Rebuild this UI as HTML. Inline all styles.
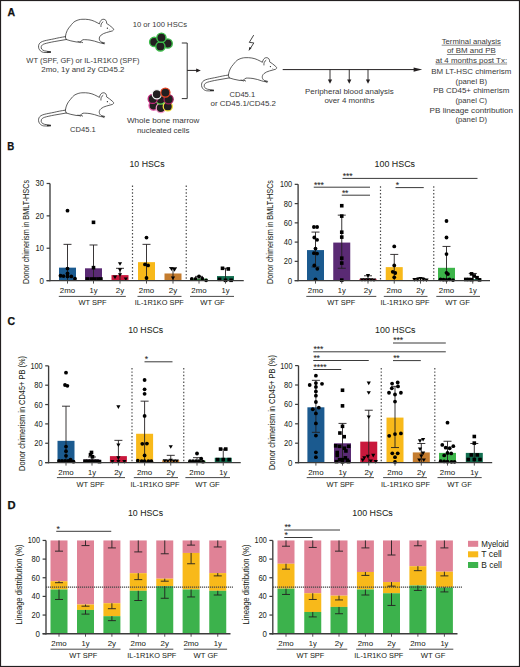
<!DOCTYPE html>
<html><head><meta charset="utf-8"><style>
html,body{margin:0;padding:0;background:#fff;}
body{width:520px;height:667px;overflow:hidden;}
svg{display:block;font-family:"Liberation Sans", sans-serif;}
text{stroke:#231f20;stroke-width:0.04px;}
.pa text{stroke-width:0;fill:#383838;}
</style></head><body>
<svg width="520" height="667" viewBox="0 0 520 667">
<rect x="0.5" y="0.5" width="519" height="666" fill="#fff" stroke="#231f20" stroke-width="1.2"/>
<g class="pa">
<text x="7.60" y="16.30" font-size="10.5" text-anchor="start" fill="#231f20" font-weight="bold" textLength="7.60" lengthAdjust="spacingAndGlyphs" style="stroke-width:0.25px;fill:#111;stroke:#111">A</text>
<g transform="translate(0,0)" fill="none" stroke="#2a2a2a" stroke-width="0.75" stroke-linejoin="round" stroke-linecap="round"><path d="M65.4,36.5 C66,32 68,28.4 70.4,26 C72,23.8 73.5,22.2 75,21.3 C78,19.8 80,19.4 81.9,19.3 C84.5,19.2 86.5,19.2 88.8,19.6 C91,20 93,20.6 94.6,21.4 C96.5,22.3 98,23.1 99.4,23.9 C99.8,22 100.6,20.4 101.8,19.7 C103,19 104.8,19.1 105.8,20.3 C106.5,21.2 106.8,22.3 106.6,23.4 C108.5,24.6 110.5,26 112,27.4 C113.2,28.4 113.9,29.2 113.6,29.9 C113.2,30.7 112.2,31.1 111,31.3 C109.5,31.7 108,32.1 106.6,32.5 C104.5,33.1 102.5,33.9 101.1,35.1 C99.7,36.3 99.1,37.7 99.3,39.1 C99.5,40.5 100.3,41.5 101.5,42.1 C102.5,42.5 103.7,42.6 104.7,42.9 C104.9,43.4 104,43.6 103,43.4 C101.5,43.2 100,42.9 98.8,42.5 C96,41.5 93,40.6 90,40.1 C87,39.7 84.5,39.6 83,39.7 C82,40.1 81.4,41 80.6,41.6 C79.2,42.2 77.5,42.2 76,41.9 C72.5,41.3 69,40.5 66.5,39.6 Z" fill="#fff"/><path d="M65.6,36.6 C61,37.3 57.5,38 54.2,38.8 C50.5,39.6 47,40.1 44.2,40.9 C41.5,41.6 39.8,42.6 39,44.3 C38.2,46.1 38.4,48.3 39.6,49.9 C40.6,51.3 42,52.1 43.6,52.4 C46,52.7 48.5,52.5 50.6,52.4 M66.4,39.5 C62.5,40.2 58.5,40.9 54.2,41.6 C50.5,42.3 47,43 44.3,43.9 C42.7,44.5 41.6,45.3 41.3,46.4 C41,47.5 41.2,48.4 41.7,49.1 C42.4,50 43.3,50.5 44.5,50.8 C46.5,51.3 48.5,51.5 50.6,51.7"/><path d="M100.9,26.6 C100.7,24.6 101.4,22.8 102.9,21.9 M78,41.6 L80.5,42.6 M80.8,41.8 L82.6,42.6 M101.8,42.6 L104,43.9 "/><path d="M47,51.3 L50.8,51.6 L50.8,52.5 L47,52.7 Z" fill="#2a2a2a" stroke="none"/><circle cx="107.4" cy="28.2" r="0.65" fill="#222" stroke="none"/><circle cx="109.8" cy="29.9" r="0.4" fill="#555" stroke="none"/></g>
<g transform="translate(0,73.5)" fill="none" stroke="#2a2a2a" stroke-width="0.75" stroke-linejoin="round" stroke-linecap="round"><path d="M65.4,36.5 C66,32 68,28.4 70.4,26 C72,23.8 73.5,22.2 75,21.3 C78,19.8 80,19.4 81.9,19.3 C84.5,19.2 86.5,19.2 88.8,19.6 C91,20 93,20.6 94.6,21.4 C96.5,22.3 98,23.1 99.4,23.9 C99.8,22 100.6,20.4 101.8,19.7 C103,19 104.8,19.1 105.8,20.3 C106.5,21.2 106.8,22.3 106.6,23.4 C108.5,24.6 110.5,26 112,27.4 C113.2,28.4 113.9,29.2 113.6,29.9 C113.2,30.7 112.2,31.1 111,31.3 C109.5,31.7 108,32.1 106.6,32.5 C104.5,33.1 102.5,33.9 101.1,35.1 C99.7,36.3 99.1,37.7 99.3,39.1 C99.5,40.5 100.3,41.5 101.5,42.1 C102.5,42.5 103.7,42.6 104.7,42.9 C104.9,43.4 104,43.6 103,43.4 C101.5,43.2 100,42.9 98.8,42.5 C96,41.5 93,40.6 90,40.1 C87,39.7 84.5,39.6 83,39.7 C82,40.1 81.4,41 80.6,41.6 C79.2,42.2 77.5,42.2 76,41.9 C72.5,41.3 69,40.5 66.5,39.6 Z" fill="#fff"/><path d="M65.6,36.6 C61,37.3 57.5,38 54.2,38.8 C50.5,39.6 47,40.1 44.2,40.9 C41.5,41.6 39.8,42.6 39,44.3 C38.2,46.1 38.4,48.3 39.6,49.9 C40.6,51.3 42,52.1 43.6,52.4 C46,52.7 48.5,52.5 50.6,52.4 M66.4,39.5 C62.5,40.2 58.5,40.9 54.2,41.6 C50.5,42.3 47,43 44.3,43.9 C42.7,44.5 41.6,45.3 41.3,46.4 C41,47.5 41.2,48.4 41.7,49.1 C42.4,50 43.3,50.5 44.5,50.8 C46.5,51.3 48.5,51.5 50.6,51.7"/><path d="M100.9,26.6 C100.7,24.6 101.4,22.8 102.9,21.9 M78,41.6 L80.5,42.6 M80.8,41.8 L82.6,42.6 M101.8,42.6 L104,43.9 "/><path d="M47,51.3 L50.8,51.6 L50.8,52.5 L47,52.7 Z" fill="#2a2a2a" stroke="none"/><circle cx="107.4" cy="28.2" r="0.65" fill="#222" stroke="none"/><circle cx="109.8" cy="29.9" r="0.4" fill="#555" stroke="none"/></g>
<g transform="translate(163,38.4)" fill="none" stroke="#2a2a2a" stroke-width="0.75" stroke-linejoin="round" stroke-linecap="round"><path d="M65.4,36.5 C66,32 68,28.4 70.4,26 C72,23.8 73.5,22.2 75,21.3 C78,19.8 80,19.4 81.9,19.3 C84.5,19.2 86.5,19.2 88.8,19.6 C91,20 93,20.6 94.6,21.4 C96.5,22.3 98,23.1 99.4,23.9 C99.8,22 100.6,20.4 101.8,19.7 C103,19 104.8,19.1 105.8,20.3 C106.5,21.2 106.8,22.3 106.6,23.4 C108.5,24.6 110.5,26 112,27.4 C113.2,28.4 113.9,29.2 113.6,29.9 C113.2,30.7 112.2,31.1 111,31.3 C109.5,31.7 108,32.1 106.6,32.5 C104.5,33.1 102.5,33.9 101.1,35.1 C99.7,36.3 99.1,37.7 99.3,39.1 C99.5,40.5 100.3,41.5 101.5,42.1 C102.5,42.5 103.7,42.6 104.7,42.9 C104.9,43.4 104,43.6 103,43.4 C101.5,43.2 100,42.9 98.8,42.5 C96,41.5 93,40.6 90,40.1 C87,39.7 84.5,39.6 83,39.7 C82,40.1 81.4,41 80.6,41.6 C79.2,42.2 77.5,42.2 76,41.9 C72.5,41.3 69,40.5 66.5,39.6 Z" fill="#fff"/><path d="M65.6,36.6 C61,37.3 57.5,38 54.2,38.8 C50.5,39.6 47,40.1 44.2,40.9 C41.5,41.6 39.8,42.6 39,44.3 C38.2,46.1 38.4,48.3 39.6,49.9 C40.6,51.3 42,52.1 43.6,52.4 C46,52.7 48.5,52.5 50.6,52.4 M66.4,39.5 C62.5,40.2 58.5,40.9 54.2,41.6 C50.5,42.3 47,43 44.3,43.9 C42.7,44.5 41.6,45.3 41.3,46.4 C41,47.5 41.2,48.4 41.7,49.1 C42.4,50 43.3,50.5 44.5,50.8 C46.5,51.3 48.5,51.5 50.6,51.7"/><path d="M100.9,26.6 C100.7,24.6 101.4,22.8 102.9,21.9 M78,41.6 L80.5,42.6 M80.8,41.8 L82.6,42.6 M101.8,42.6 L104,43.9 "/><path d="M47,51.3 L50.8,51.6 L50.8,52.5 L47,52.7 Z" fill="#2a2a2a" stroke="none"/><circle cx="107.4" cy="28.2" r="0.65" fill="#222" stroke="none"/><circle cx="109.8" cy="29.9" r="0.4" fill="#555" stroke="none"/></g>
<text x="82.90" y="63.40" font-size="7.9" text-anchor="middle" fill="#231f20" textLength="113.20" lengthAdjust="spacingAndGlyphs">WT (SPF, GF) or IL-1R1KO (SPF)</text>
<text x="82.90" y="72.20" font-size="7.9" text-anchor="middle" fill="#231f20" textLength="83.20" lengthAdjust="spacingAndGlyphs">2mo, 1y and 2y CD45.2</text>
<text x="82.90" y="132.00" font-size="7.9" text-anchor="middle" fill="#231f20" textLength="25.70" lengthAdjust="spacingAndGlyphs">CD45.1</text>
<text x="159.90" y="27.20" font-size="7.9" text-anchor="middle" fill="#231f20" textLength="54.30" lengthAdjust="spacingAndGlyphs">10 or 100 HSCs</text>
<text x="163.20" y="122.70" font-size="7.9" text-anchor="middle" fill="#231f20" textLength="72.50" lengthAdjust="spacingAndGlyphs">Whole bone marrow</text>
<text x="163.20" y="132.70" font-size="7.9" text-anchor="middle" fill="#231f20" textLength="52.50" lengthAdjust="spacingAndGlyphs">nucleated cells</text>
<circle cx="154.20" cy="41.90" r="4.60" fill="#231f20" stroke="#3cbc4a" stroke-width="1.4"/>
<circle cx="167.70" cy="43.50" r="4.60" fill="#231f20" stroke="#3cbc4a" stroke-width="1.4"/>
<circle cx="160.40" cy="46.40" r="4.60" fill="#231f20" stroke="#3cbc4a" stroke-width="1.4"/>
<circle cx="161.40" cy="37.70" r="4.60" fill="#231f20" stroke="#3cbc4a" stroke-width="1.4"/>
<circle cx="153.60" cy="105.60" r="4.58" fill="#231f20" stroke="#e255a6" stroke-width="1.25"/>
<circle cx="160.80" cy="108.00" r="4.58" fill="#231f20" stroke="#f59bcb" stroke-width="1.25"/>
<circle cx="167.80" cy="106.40" r="4.58" fill="#231f20" stroke="#f6e23c" stroke-width="1.25"/>
<circle cx="160.50" cy="99.60" r="4.58" fill="#231f20" stroke="#58d348" stroke-width="1.25"/>
<circle cx="152.70" cy="98.90" r="4.58" fill="#231f20" stroke="#c8287f" stroke-width="1.25"/>
<circle cx="168.60" cy="99.30" r="4.58" fill="#231f20" stroke="#a01f5d" stroke-width="1.25"/>
<circle cx="156.80" cy="94.30" r="4.58" fill="#231f20" stroke="#f2f2f2" stroke-width="1.25"/>
<circle cx="165.40" cy="92.60" r="4.58" fill="#231f20" stroke="#ea4220" stroke-width="1.25"/>
<path d="M181.8,43 H187.2 V98.6 H181.8" fill="none" stroke="#333" stroke-width="1"/>
<line x1="187.20" y1="70.40" x2="197.50" y2="70.40" stroke="#231f20" stroke-width="1"/>
<path d="M200.8,70.4 L196.2,68.4 L196.2,72.4 Z" fill="#231f20"/>
<path d="M253.7,35.1 L249.3,42.4 L253.8,42.9 L250.4,48.4" fill="none" stroke="#222" stroke-width="0.85" stroke-linejoin="miter"/>
<path d="M248.6,50.9 L249.4,46.9 L251.5,48.1 Z" fill="#222"/>
<text x="242.30" y="96.70" font-size="7.9" text-anchor="middle" fill="#231f20" textLength="25.70" lengthAdjust="spacingAndGlyphs">CD45.1</text>
<text x="243.30" y="106.40" font-size="7.9" text-anchor="middle" fill="#231f20" textLength="65.40" lengthAdjust="spacingAndGlyphs">or CD45.1/CD45.2</text>
<line x1="282.70" y1="69.60" x2="417.00" y2="69.60" stroke="#231f20" stroke-width="1"/>
<path d="M422.2,69.6 L413.6,67.4 L413.6,71.8 Z" fill="#231f20"/>
<line x1="330.00" y1="69.60" x2="330.00" y2="80.50" stroke="#231f20" stroke-width="0.9"/>
<path d="M327.9,79.6 L332.1,79.6 L330,83.8 Z" fill="#231f20"/>
<line x1="349.25" y1="69.60" x2="349.25" y2="80.50" stroke="#231f20" stroke-width="0.9"/>
<path d="M347.15,79.6 L351.35,79.6 L349.25,83.8 Z" fill="#231f20"/>
<line x1="368.00" y1="69.60" x2="368.00" y2="80.50" stroke="#231f20" stroke-width="0.9"/>
<path d="M365.9,79.6 L370.1,79.6 L368,83.8 Z" fill="#231f20"/>
<text x="349.40" y="93.90" font-size="7.9" text-anchor="middle" fill="#231f20" textLength="88.70" lengthAdjust="spacingAndGlyphs">Peripheral blood analysis</text>
<text x="349.40" y="103.40" font-size="7.9" text-anchor="middle" fill="#231f20" textLength="50.00" lengthAdjust="spacingAndGlyphs">over 4 months</text>
<text x="471.30" y="43.90" font-size="7.9" text-anchor="middle" fill="#231f20" textLength="59.20" lengthAdjust="spacingAndGlyphs">Terminal analysis</text>
<line x1="441.70" y1="45.20" x2="500.90" y2="45.20" stroke="#3a3a3a" stroke-width="0.6"/>
<text x="471.30" y="53.20" font-size="7.9" text-anchor="middle" fill="#231f20" textLength="48.80" lengthAdjust="spacingAndGlyphs">of BM and PB</text>
<line x1="446.90" y1="54.50" x2="495.70" y2="54.50" stroke="#3a3a3a" stroke-width="0.6"/>
<text x="471.30" y="62.70" font-size="7.9" text-anchor="middle" fill="#231f20" textLength="71.60" lengthAdjust="spacingAndGlyphs">at 4 months post Tx:</text>
<line x1="435.50" y1="64.00" x2="507.10" y2="64.00" stroke="#3a3a3a" stroke-width="0.6"/>
<text x="471.30" y="73.90" font-size="7.9" text-anchor="middle" fill="#231f20" textLength="80.00" lengthAdjust="spacingAndGlyphs">BM LT-HSC chimerism</text>
<text x="471.30" y="83.90" font-size="7.9" text-anchor="middle" fill="#231f20" textLength="31.50" lengthAdjust="spacingAndGlyphs">(panel B)</text>
<text x="471.30" y="93.40" font-size="7.9" text-anchor="middle" fill="#231f20" textLength="76.00" lengthAdjust="spacingAndGlyphs">PB CD45+ chimerism</text>
<text x="471.30" y="102.70" font-size="7.9" text-anchor="middle" fill="#231f20" textLength="31.50" lengthAdjust="spacingAndGlyphs">(panel C)</text>
<text x="471.30" y="112.70" font-size="7.9" text-anchor="middle" fill="#231f20" textLength="83.50" lengthAdjust="spacingAndGlyphs">PB lineage contribution</text>
<text x="471.30" y="121.90" font-size="7.9" text-anchor="middle" fill="#231f20" textLength="31.50" lengthAdjust="spacingAndGlyphs">(panel D)</text>
</g>
<text x="7.30" y="150.20" font-size="10.5" text-anchor="start" fill="#231f20" font-weight="bold" textLength="7.00" lengthAdjust="spacingAndGlyphs" style="stroke-width:0.25px;fill:#111;stroke:#111">B</text>
<text x="147.00" y="166.80" font-size="9.6" text-anchor="middle" fill="#231f20" textLength="35.00" lengthAdjust="spacingAndGlyphs">10 HSCs</text>
<text x="29.20" y="232.00" font-size="9.0" text-anchor="middle" fill="#231f20" textLength="104.00" lengthAdjust="spacingAndGlyphs" transform="rotate(-90 29.20 232.00)">Donor chimerism in BMLT-HSCs</text>
<rect x="59.00" y="267.65" width="17.00" height="12.95" fill="#1b5a8f"/>
<rect x="85.00" y="268.30" width="17.00" height="12.30" fill="#5a2a74"/>
<rect x="111.50" y="275.10" width="17.00" height="5.50" fill="#c9183c"/>
<rect x="138.00" y="262.15" width="17.00" height="18.45" fill="#f8b91a"/>
<rect x="164.50" y="273.48" width="17.00" height="7.12" fill="#c47c2e"/>
<rect x="190.50" y="278.66" width="17.00" height="1.94" fill="#3db54a"/>
<rect x="217.00" y="276.07" width="17.00" height="4.53" fill="#126f50"/>
<line x1="132.50" y1="185.50" x2="132.50" y2="280.60" stroke="#4a4a4a" stroke-width="1.2" stroke-dasharray="1.4 2"/>
<line x1="186.25" y1="185.50" x2="186.25" y2="280.60" stroke="#4a4a4a" stroke-width="1.2" stroke-dasharray="1.4 2"/>
<line x1="67.50" y1="244.35" x2="67.50" y2="280.60" stroke="#231f20" stroke-width="0.9"/>
<line x1="63.50" y1="244.35" x2="71.50" y2="244.35" stroke="#231f20" stroke-width="0.9"/>
<line x1="93.50" y1="244.99" x2="93.50" y2="280.60" stroke="#231f20" stroke-width="0.9"/>
<line x1="89.50" y1="244.99" x2="97.50" y2="244.99" stroke="#231f20" stroke-width="0.9"/>
<line x1="120.00" y1="268.30" x2="120.00" y2="280.60" stroke="#231f20" stroke-width="0.9"/>
<line x1="116.00" y1="268.30" x2="124.00" y2="268.30" stroke="#231f20" stroke-width="0.9"/>
<line x1="146.50" y1="244.35" x2="146.50" y2="280.60" stroke="#231f20" stroke-width="0.9"/>
<line x1="142.50" y1="244.35" x2="150.50" y2="244.35" stroke="#231f20" stroke-width="0.9"/>
<line x1="173.00" y1="267.65" x2="173.00" y2="280.60" stroke="#231f20" stroke-width="0.9"/>
<line x1="169.00" y1="267.65" x2="177.00" y2="267.65" stroke="#231f20" stroke-width="0.9"/>
<line x1="199.00" y1="276.39" x2="199.00" y2="280.60" stroke="#231f20" stroke-width="0.9"/>
<line x1="195.00" y1="276.39" x2="203.00" y2="276.39" stroke="#231f20" stroke-width="0.9"/>
<line x1="225.50" y1="268.30" x2="225.50" y2="280.60" stroke="#231f20" stroke-width="0.9"/>
<line x1="221.50" y1="268.30" x2="229.50" y2="268.30" stroke="#231f20" stroke-width="0.9"/>
<circle cx="67.50" cy="210.68" r="1.9" fill="#000"/>
<circle cx="67.50" cy="268.62" r="1.9" fill="#000"/>
<circle cx="67.50" cy="273.48" r="1.9" fill="#000"/>
<circle cx="60.50" cy="275.74" r="1.9" fill="#000"/>
<circle cx="63.50" cy="276.07" r="1.9" fill="#000"/>
<circle cx="67.50" cy="276.39" r="1.9" fill="#000"/>
<circle cx="71.30" cy="276.39" r="1.9" fill="#000"/>
<circle cx="75.00" cy="278.66" r="1.9" fill="#000"/>
<rect x="91.70" y="220.53" width="3.60" height="3.60" fill="#000"/>
<rect x="91.70" y="265.85" width="3.60" height="3.60" fill="#000"/>
<rect x="85.50" y="277.18" width="3.60" height="3.60" fill="#000"/>
<rect x="89.40" y="277.18" width="3.60" height="3.60" fill="#000"/>
<rect x="92.90" y="277.18" width="3.60" height="3.60" fill="#000"/>
<rect x="96.30" y="277.18" width="3.60" height="3.60" fill="#000"/>
<rect x="99.10" y="277.18" width="3.60" height="3.60" fill="#000"/>
<path d="M117.90,262.17 L122.10,262.17 L120.00,265.87 Z" fill="#000"/>
<path d="M117.90,268.32 L122.10,268.32 L120.00,272.02 Z" fill="#000"/>
<path d="M117.90,273.17 L122.10,273.17 L120.00,276.87 Z" fill="#000"/>
<path d="M112.90,275.44 L117.10,275.44 L115.00,279.14 Z" fill="#000"/>
<path d="M123.70,277.38 L127.90,277.38 L125.80,281.08 Z" fill="#000"/>
<circle cx="146.50" cy="237.55" r="1.9" fill="#000"/>
<circle cx="145.00" cy="264.42" r="1.9" fill="#000"/>
<circle cx="148.10" cy="265.39" r="1.9" fill="#000"/>
<circle cx="146.50" cy="278.01" r="1.9" fill="#000"/>
<path d="M169.40,267.35 L173.60,267.35 L171.50,271.05 Z" fill="#000"/>
<path d="M172.40,267.99 L176.60,267.99 L174.50,271.69 Z" fill="#000"/>
<path d="M170.90,276.41 L175.10,276.41 L173.00,280.11 Z" fill="#000"/>
<circle cx="191.80" cy="278.98" r="1.9" fill="#000"/>
<circle cx="195.60" cy="278.98" r="1.9" fill="#000"/>
<circle cx="199.00" cy="276.39" r="1.9" fill="#000"/>
<circle cx="202.30" cy="278.66" r="1.9" fill="#000"/>
<circle cx="206.10" cy="280.28" r="1.9" fill="#000"/>
<rect x="220.70" y="266.50" width="3.60" height="3.60" fill="#000"/>
<rect x="226.50" y="267.15" width="3.60" height="3.60" fill="#000"/>
<rect x="217.80" y="277.51" width="3.60" height="3.60" fill="#000"/>
<rect x="223.70" y="278.48" width="3.60" height="3.60" fill="#000"/>
<rect x="229.30" y="278.48" width="3.60" height="3.60" fill="#000"/>
<line x1="50.00" y1="183.49" x2="50.00" y2="281.30" stroke="#3c3c3c" stroke-width="1.35"/>
<line x1="46.60" y1="280.60" x2="243.75" y2="280.60" stroke="#3c3c3c" stroke-width="1.35"/>
<line x1="46.60" y1="280.60" x2="50.00" y2="280.60" stroke="#3c3c3c" stroke-width="1.215"/>
<text x="44.00" y="283.60" font-size="8.8" text-anchor="end" fill="#231f20" textLength="4.40" lengthAdjust="spacingAndGlyphs">0</text>
<line x1="46.60" y1="248.23" x2="50.00" y2="248.23" stroke="#3c3c3c" stroke-width="1.215"/>
<text x="44.00" y="251.23" font-size="8.8" text-anchor="end" fill="#231f20" textLength="8.40" lengthAdjust="spacingAndGlyphs">10</text>
<line x1="46.60" y1="215.86" x2="50.00" y2="215.86" stroke="#3c3c3c" stroke-width="1.215"/>
<text x="44.00" y="218.86" font-size="8.8" text-anchor="end" fill="#231f20" textLength="8.40" lengthAdjust="spacingAndGlyphs">20</text>
<line x1="46.60" y1="183.49" x2="50.00" y2="183.49" stroke="#3c3c3c" stroke-width="1.215"/>
<text x="44.00" y="186.49" font-size="8.8" text-anchor="end" fill="#231f20" textLength="8.40" lengthAdjust="spacingAndGlyphs">30</text>
<line x1="67.50" y1="280.60" x2="67.50" y2="283.60" stroke="#3c3c3c" stroke-width="0.9"/>
<line x1="93.50" y1="280.60" x2="93.50" y2="283.60" stroke="#3c3c3c" stroke-width="0.9"/>
<line x1="120.00" y1="280.60" x2="120.00" y2="283.60" stroke="#3c3c3c" stroke-width="0.9"/>
<line x1="146.50" y1="280.60" x2="146.50" y2="283.60" stroke="#3c3c3c" stroke-width="0.9"/>
<line x1="173.00" y1="280.60" x2="173.00" y2="283.60" stroke="#3c3c3c" stroke-width="0.9"/>
<line x1="199.00" y1="280.60" x2="199.00" y2="283.60" stroke="#3c3c3c" stroke-width="0.9"/>
<line x1="225.50" y1="280.60" x2="225.50" y2="283.60" stroke="#3c3c3c" stroke-width="0.9"/>
<text x="67.50" y="293.30" font-size="8.0" text-anchor="middle" fill="#231f20" textLength="15.30" lengthAdjust="spacingAndGlyphs">2mo</text>
<text x="93.50" y="293.30" font-size="8.0" text-anchor="middle" fill="#231f20" textLength="8.00" lengthAdjust="spacingAndGlyphs">1y</text>
<text x="120.00" y="293.30" font-size="8.0" text-anchor="middle" fill="#231f20" textLength="8.40" lengthAdjust="spacingAndGlyphs">2y</text>
<text x="146.50" y="293.30" font-size="8.0" text-anchor="middle" fill="#231f20" textLength="15.30" lengthAdjust="spacingAndGlyphs">2mo</text>
<text x="173.00" y="293.30" font-size="8.0" text-anchor="middle" fill="#231f20" textLength="8.40" lengthAdjust="spacingAndGlyphs">2y</text>
<text x="199.00" y="293.30" font-size="8.0" text-anchor="middle" fill="#231f20" textLength="15.30" lengthAdjust="spacingAndGlyphs">2mo</text>
<text x="225.50" y="293.30" font-size="8.0" text-anchor="middle" fill="#231f20" textLength="8.00" lengthAdjust="spacingAndGlyphs">1y</text>
<line x1="58.80" y1="296.40" x2="125.80" y2="296.40" stroke="#333" stroke-width="0.9"/>
<text x="92.50" y="305.40" font-size="8.0" text-anchor="middle" fill="#231f20" textLength="28.00" lengthAdjust="spacingAndGlyphs">WT SPF</text>
<line x1="137.50" y1="296.40" x2="181.50" y2="296.40" stroke="#333" stroke-width="0.9"/>
<text x="159.30" y="305.40" font-size="8.0" text-anchor="middle" fill="#231f20" textLength="49.00" lengthAdjust="spacingAndGlyphs">IL-1R1KO SPF</text>
<line x1="190.00" y1="296.40" x2="234.00" y2="296.40" stroke="#333" stroke-width="0.9"/>
<text x="212.50" y="305.40" font-size="8.0" text-anchor="middle" fill="#231f20" textLength="24.50" lengthAdjust="spacingAndGlyphs">WT GF</text>
<text x="394.80" y="166.80" font-size="9.6" text-anchor="middle" fill="#231f20" textLength="40.50" lengthAdjust="spacingAndGlyphs">100 HSCs</text>
<text x="273.40" y="232.00" font-size="9.0" text-anchor="middle" fill="#231f20" textLength="104.00" lengthAdjust="spacingAndGlyphs" transform="rotate(-90 273.40 232.00)">Donor chimerism in BMLT-HSCs</text>
<rect x="307.00" y="250.09" width="17.00" height="30.51" fill="#1b5a8f"/>
<rect x="333.25" y="242.58" width="17.00" height="38.02" fill="#5a2a74"/>
<rect x="359.50" y="278.87" width="17.00" height="1.73" fill="#c9183c"/>
<rect x="385.75" y="267.12" width="17.00" height="13.47" fill="#f8b91a"/>
<rect x="412.00" y="279.83" width="17.00" height="0.77" fill="#c47c2e"/>
<rect x="438.00" y="267.80" width="17.00" height="12.80" fill="#3db54a"/>
<rect x="464.25" y="279.16" width="17.00" height="1.44" fill="#126f50"/>
<line x1="380.50" y1="186.30" x2="380.50" y2="280.60" stroke="#4a4a4a" stroke-width="1.2" stroke-dasharray="1.4 2"/>
<line x1="433.75" y1="186.30" x2="433.75" y2="280.60" stroke="#4a4a4a" stroke-width="1.2" stroke-dasharray="1.4 2"/>
<line x1="315.50" y1="232.09" x2="315.50" y2="266.93" stroke="#231f20" stroke-width="0.9"/>
<line x1="311.50" y1="232.09" x2="319.50" y2="232.09" stroke="#231f20" stroke-width="0.9"/>
<line x1="311.50" y1="266.93" x2="319.50" y2="266.93" stroke="#231f20" stroke-width="0.9"/>
<line x1="341.75" y1="215.15" x2="341.75" y2="268.28" stroke="#231f20" stroke-width="0.9"/>
<line x1="337.75" y1="215.15" x2="345.75" y2="215.15" stroke="#231f20" stroke-width="0.9"/>
<line x1="337.75" y1="268.28" x2="345.75" y2="268.28" stroke="#231f20" stroke-width="0.9"/>
<line x1="368.00" y1="275.79" x2="368.00" y2="280.60" stroke="#231f20" stroke-width="0.9"/>
<line x1="364.00" y1="275.79" x2="372.00" y2="275.79" stroke="#231f20" stroke-width="0.9"/>
<line x1="394.25" y1="254.42" x2="394.25" y2="280.60" stroke="#231f20" stroke-width="0.9"/>
<line x1="390.25" y1="254.42" x2="398.25" y2="254.42" stroke="#231f20" stroke-width="0.9"/>
<line x1="420.50" y1="277.71" x2="420.50" y2="280.60" stroke="#231f20" stroke-width="0.9"/>
<line x1="416.50" y1="277.71" x2="424.50" y2="277.71" stroke="#231f20" stroke-width="0.9"/>
<line x1="446.50" y1="246.43" x2="446.50" y2="280.60" stroke="#231f20" stroke-width="0.9"/>
<line x1="442.50" y1="246.43" x2="450.50" y2="246.43" stroke="#231f20" stroke-width="0.9"/>
<line x1="472.75" y1="273.48" x2="472.75" y2="280.60" stroke="#231f20" stroke-width="0.9"/>
<line x1="468.75" y1="273.48" x2="476.75" y2="273.48" stroke="#231f20" stroke-width="0.9"/>
<circle cx="313.90" cy="226.99" r="1.9" fill="#000"/>
<circle cx="317.10" cy="226.99" r="1.9" fill="#000"/>
<circle cx="314.30" cy="237.48" r="1.9" fill="#000"/>
<circle cx="317.10" cy="239.79" r="1.9" fill="#000"/>
<circle cx="315.50" cy="248.55" r="1.9" fill="#000"/>
<circle cx="313.90" cy="253.17" r="1.9" fill="#000"/>
<circle cx="317.10" cy="253.55" r="1.9" fill="#000"/>
<circle cx="314.30" cy="265.49" r="1.9" fill="#000"/>
<circle cx="317.30" cy="268.86" r="1.9" fill="#000"/>
<circle cx="315.50" cy="279.35" r="1.9" fill="#000"/>
<rect x="339.95" y="203.92" width="3.60" height="3.60" fill="#000"/>
<rect x="339.95" y="214.31" width="3.60" height="3.60" fill="#000"/>
<rect x="339.95" y="230.39" width="3.60" height="3.60" fill="#000"/>
<rect x="339.95" y="235.30" width="3.60" height="3.60" fill="#000"/>
<rect x="339.95" y="256.37" width="3.60" height="3.60" fill="#000"/>
<rect x="339.95" y="261.28" width="3.60" height="3.60" fill="#000"/>
<rect x="339.95" y="278.32" width="3.60" height="3.60" fill="#000"/>
<path d="M365.90,274.00 L370.10,274.00 L368.00,277.69 Z" fill="#000"/>
<path d="M359.90,278.13 L364.10,278.13 L362.00,281.83 Z" fill="#000"/>
<path d="M362.90,278.13 L367.10,278.13 L365.00,281.83 Z" fill="#000"/>
<path d="M365.90,278.13 L370.10,278.13 L368.00,281.83 Z" fill="#000"/>
<path d="M368.90,278.13 L373.10,278.13 L371.00,281.83 Z" fill="#000"/>
<path d="M371.90,278.42 L376.10,278.42 L374.00,282.12 Z" fill="#000"/>
<circle cx="394.25" cy="246.43" r="1.9" fill="#000"/>
<circle cx="394.25" cy="265.39" r="1.9" fill="#000"/>
<circle cx="392.75" cy="271.84" r="1.9" fill="#000"/>
<circle cx="395.25" cy="273.00" r="1.9" fill="#000"/>
<circle cx="394.25" cy="277.33" r="1.9" fill="#000"/>
<path d="M412.40,278.04 L416.60,278.04 L414.50,281.74 Z" fill="#000"/>
<path d="M415.40,278.04 L419.60,278.04 L417.50,281.74 Z" fill="#000"/>
<path d="M418.40,277.08 L422.60,277.08 L420.50,280.77 Z" fill="#000"/>
<path d="M421.40,278.04 L425.60,278.04 L423.50,281.74 Z" fill="#000"/>
<path d="M424.40,278.42 L428.60,278.42 L426.50,282.12 Z" fill="#000"/>
<circle cx="446.50" cy="221.02" r="1.9" fill="#000"/>
<circle cx="446.50" cy="237.48" r="1.9" fill="#000"/>
<circle cx="446.50" cy="254.04" r="1.9" fill="#000"/>
<circle cx="446.50" cy="272.80" r="1.9" fill="#000"/>
<circle cx="448.00" cy="274.06" r="1.9" fill="#000"/>
<circle cx="440.50" cy="279.45" r="1.9" fill="#000"/>
<circle cx="443.50" cy="279.64" r="1.9" fill="#000"/>
<circle cx="446.50" cy="279.83" r="1.9" fill="#000"/>
<circle cx="449.50" cy="279.45" r="1.9" fill="#000"/>
<circle cx="453.00" cy="280.12" r="1.9" fill="#000"/>
<rect x="469.75" y="272.06" width="3.60" height="3.60" fill="#000"/>
<rect x="472.45" y="274.18" width="3.60" height="3.60" fill="#000"/>
<rect x="475.25" y="275.91" width="3.60" height="3.60" fill="#000"/>
<rect x="477.75" y="278.03" width="3.60" height="3.60" fill="#000"/>
<rect x="463.95" y="277.65" width="3.60" height="3.60" fill="#000"/>
<rect x="466.95" y="277.65" width="3.60" height="3.60" fill="#000"/>
<rect x="469.95" y="277.84" width="3.60" height="3.60" fill="#000"/>
<line x1="298.10" y1="184.35" x2="298.10" y2="281.30" stroke="#3c3c3c" stroke-width="1.35"/>
<line x1="294.70" y1="280.60" x2="490.00" y2="280.60" stroke="#3c3c3c" stroke-width="1.35"/>
<line x1="294.70" y1="280.60" x2="298.10" y2="280.60" stroke="#3c3c3c" stroke-width="1.215"/>
<text x="292.10" y="283.60" font-size="8.8" text-anchor="end" fill="#231f20" textLength="4.40" lengthAdjust="spacingAndGlyphs">0</text>
<line x1="294.70" y1="261.35" x2="298.10" y2="261.35" stroke="#3c3c3c" stroke-width="1.215"/>
<text x="292.10" y="264.35" font-size="8.8" text-anchor="end" fill="#231f20" textLength="8.40" lengthAdjust="spacingAndGlyphs">20</text>
<line x1="294.70" y1="242.10" x2="298.10" y2="242.10" stroke="#3c3c3c" stroke-width="1.215"/>
<text x="292.10" y="245.10" font-size="8.8" text-anchor="end" fill="#231f20" textLength="8.40" lengthAdjust="spacingAndGlyphs">40</text>
<line x1="294.70" y1="222.85" x2="298.10" y2="222.85" stroke="#3c3c3c" stroke-width="1.215"/>
<text x="292.10" y="225.85" font-size="8.8" text-anchor="end" fill="#231f20" textLength="8.40" lengthAdjust="spacingAndGlyphs">60</text>
<line x1="294.70" y1="203.60" x2="298.10" y2="203.60" stroke="#3c3c3c" stroke-width="1.215"/>
<text x="292.10" y="206.60" font-size="8.8" text-anchor="end" fill="#231f20" textLength="8.40" lengthAdjust="spacingAndGlyphs">80</text>
<line x1="294.70" y1="184.35" x2="298.10" y2="184.35" stroke="#3c3c3c" stroke-width="1.215"/>
<text x="292.10" y="187.35" font-size="8.8" text-anchor="end" fill="#231f20" textLength="12.20" lengthAdjust="spacingAndGlyphs">100</text>
<line x1="315.50" y1="280.60" x2="315.50" y2="283.60" stroke="#3c3c3c" stroke-width="0.9"/>
<line x1="341.75" y1="280.60" x2="341.75" y2="283.60" stroke="#3c3c3c" stroke-width="0.9"/>
<line x1="368.00" y1="280.60" x2="368.00" y2="283.60" stroke="#3c3c3c" stroke-width="0.9"/>
<line x1="394.25" y1="280.60" x2="394.25" y2="283.60" stroke="#3c3c3c" stroke-width="0.9"/>
<line x1="420.50" y1="280.60" x2="420.50" y2="283.60" stroke="#3c3c3c" stroke-width="0.9"/>
<line x1="446.50" y1="280.60" x2="446.50" y2="283.60" stroke="#3c3c3c" stroke-width="0.9"/>
<line x1="472.75" y1="280.60" x2="472.75" y2="283.60" stroke="#3c3c3c" stroke-width="0.9"/>
<line x1="313.75" y1="187.20" x2="370.00" y2="187.20" stroke="#3a3a3a" stroke-width="1.0"/>
<text x="314.05" y="187.60" font-size="8.6" fill="#1a1a1a" stroke="#1a1a1a" stroke-width="0.25" textLength="9.75" lengthAdjust="spacing">***</text>
<line x1="341.75" y1="195.20" x2="370.00" y2="195.20" stroke="#3a3a3a" stroke-width="1.0"/>
<text x="342.05" y="195.60" font-size="8.6" fill="#1a1a1a" stroke="#1a1a1a" stroke-width="0.25" textLength="6.40" lengthAdjust="spacing">**</text>
<line x1="342.50" y1="178.40" x2="477.50" y2="178.40" stroke="#3a3a3a" stroke-width="1.0"/>
<text x="342.80" y="178.80" font-size="8.6" fill="#1a1a1a" stroke="#1a1a1a" stroke-width="0.25" textLength="9.75" lengthAdjust="spacing">***</text>
<line x1="395.50" y1="187.60" x2="423.75" y2="187.60" stroke="#3a3a3a" stroke-width="1.0"/>
<text x="395.80" y="188.00" font-size="8.6" fill="#1a1a1a" stroke="#1a1a1a" stroke-width="0.25" textLength="3.05" lengthAdjust="spacing">*</text>
<text x="315.50" y="293.30" font-size="8.0" text-anchor="middle" fill="#231f20" textLength="15.30" lengthAdjust="spacingAndGlyphs">2mo</text>
<text x="341.75" y="293.30" font-size="8.0" text-anchor="middle" fill="#231f20" textLength="8.00" lengthAdjust="spacingAndGlyphs">1y</text>
<text x="368.00" y="293.30" font-size="8.0" text-anchor="middle" fill="#231f20" textLength="8.40" lengthAdjust="spacingAndGlyphs">2y</text>
<text x="394.25" y="293.30" font-size="8.0" text-anchor="middle" fill="#231f20" textLength="15.30" lengthAdjust="spacingAndGlyphs">2mo</text>
<text x="420.50" y="293.30" font-size="8.0" text-anchor="middle" fill="#231f20" textLength="8.40" lengthAdjust="spacingAndGlyphs">2y</text>
<text x="446.50" y="293.30" font-size="8.0" text-anchor="middle" fill="#231f20" textLength="15.30" lengthAdjust="spacingAndGlyphs">2mo</text>
<text x="472.75" y="293.30" font-size="8.0" text-anchor="middle" fill="#231f20" textLength="8.00" lengthAdjust="spacingAndGlyphs">1y</text>
<line x1="306.30" y1="296.40" x2="376.30" y2="296.40" stroke="#333" stroke-width="0.9"/>
<text x="341.20" y="305.40" font-size="8.0" text-anchor="middle" fill="#231f20" textLength="28.00" lengthAdjust="spacingAndGlyphs">WT SPF</text>
<line x1="383.80" y1="296.40" x2="427.50" y2="296.40" stroke="#333" stroke-width="0.9"/>
<text x="405.00" y="305.40" font-size="8.0" text-anchor="middle" fill="#231f20" textLength="49.00" lengthAdjust="spacingAndGlyphs">IL-1R1KO SPF</text>
<line x1="436.30" y1="296.40" x2="480.00" y2="296.40" stroke="#333" stroke-width="0.9"/>
<text x="457.60" y="305.40" font-size="8.0" text-anchor="middle" fill="#231f20" textLength="24.50" lengthAdjust="spacingAndGlyphs">WT GF</text>
<text x="7.40" y="324.90" font-size="10.5" text-anchor="start" fill="#231f20" font-weight="bold" textLength="7.60" lengthAdjust="spacingAndGlyphs" style="stroke-width:0.25px;fill:#111;stroke:#111">C</text>
<text x="145.70" y="333.20" font-size="9.6" text-anchor="middle" fill="#231f20" textLength="35.00" lengthAdjust="spacingAndGlyphs">10 HSCs</text>
<text x="25.30" y="413.50" font-size="9.0" text-anchor="middle" fill="#231f20" textLength="115.00" lengthAdjust="spacingAndGlyphs" transform="rotate(-90 25.30 413.50)">Donor chimerism in CD45+ PB (%)</text>
<rect x="57.50" y="440.83" width="17.00" height="21.77" fill="#1b5a8f"/>
<rect x="83.50" y="459.70" width="17.00" height="2.90" fill="#5a2a74"/>
<rect x="109.90" y="456.12" width="17.00" height="6.48" fill="#c9183c"/>
<rect x="136.10" y="433.77" width="17.00" height="28.83" fill="#f8b91a"/>
<rect x="162.25" y="460.18" width="17.00" height="2.42" fill="#c47c2e"/>
<rect x="188.50" y="460.67" width="17.00" height="1.94" fill="#3db54a"/>
<rect x="214.75" y="457.76" width="17.00" height="4.84" fill="#126f50"/>
<line x1="132.00" y1="368.00" x2="132.00" y2="462.60" stroke="#4a4a4a" stroke-width="1.2" stroke-dasharray="1.4 2"/>
<line x1="183.75" y1="368.00" x2="183.75" y2="462.60" stroke="#4a4a4a" stroke-width="1.2" stroke-dasharray="1.4 2"/>
<line x1="66.00" y1="406.19" x2="66.00" y2="462.60" stroke="#231f20" stroke-width="0.9"/>
<line x1="62.00" y1="406.19" x2="70.00" y2="406.19" stroke="#231f20" stroke-width="0.9"/>
<line x1="92.00" y1="456.99" x2="92.00" y2="462.60" stroke="#231f20" stroke-width="0.9"/>
<line x1="88.00" y1="456.99" x2="96.00" y2="456.99" stroke="#231f20" stroke-width="0.9"/>
<line x1="118.40" y1="440.35" x2="118.40" y2="462.60" stroke="#231f20" stroke-width="0.9"/>
<line x1="114.40" y1="440.35" x2="122.40" y2="440.35" stroke="#231f20" stroke-width="0.9"/>
<line x1="144.60" y1="401.16" x2="144.60" y2="462.60" stroke="#231f20" stroke-width="0.9"/>
<line x1="140.60" y1="401.16" x2="148.60" y2="401.16" stroke="#231f20" stroke-width="0.9"/>
<line x1="170.75" y1="455.34" x2="170.75" y2="462.60" stroke="#231f20" stroke-width="0.9"/>
<line x1="166.75" y1="455.34" x2="174.75" y2="455.34" stroke="#231f20" stroke-width="0.9"/>
<line x1="197.00" y1="457.67" x2="197.00" y2="462.60" stroke="#231f20" stroke-width="0.9"/>
<line x1="193.00" y1="457.67" x2="201.00" y2="457.67" stroke="#231f20" stroke-width="0.9"/>
<line x1="223.25" y1="449.06" x2="223.25" y2="462.60" stroke="#231f20" stroke-width="0.9"/>
<line x1="219.25" y1="449.06" x2="227.25" y2="449.06" stroke="#231f20" stroke-width="0.9"/>
<circle cx="66.00" cy="372.72" r="1.9" fill="#000"/>
<circle cx="65.00" cy="385.01" r="1.9" fill="#000"/>
<circle cx="67.40" cy="385.78" r="1.9" fill="#000"/>
<circle cx="66.00" cy="446.54" r="1.9" fill="#000"/>
<circle cx="66.00" cy="451.18" r="1.9" fill="#000"/>
<circle cx="66.00" cy="455.83" r="1.9" fill="#000"/>
<circle cx="70.50" cy="459.60" r="1.9" fill="#000"/>
<circle cx="59.00" cy="460.96" r="1.9" fill="#000"/>
<circle cx="62.00" cy="460.96" r="1.9" fill="#000"/>
<circle cx="65.00" cy="460.96" r="1.9" fill="#000"/>
<circle cx="68.00" cy="460.96" r="1.9" fill="#000"/>
<circle cx="71.00" cy="461.15" r="1.9" fill="#000"/>
<circle cx="73.50" cy="461.63" r="1.9" fill="#000"/>
<rect x="89.70" y="450.64" width="3.60" height="3.60" fill="#000"/>
<rect x="88.70" y="452.87" width="3.60" height="3.60" fill="#000"/>
<rect x="90.70" y="455.00" width="3.60" height="3.60" fill="#000"/>
<rect x="83.20" y="459.35" width="3.60" height="3.60" fill="#000"/>
<rect x="86.20" y="459.35" width="3.60" height="3.60" fill="#000"/>
<rect x="89.20" y="459.35" width="3.60" height="3.60" fill="#000"/>
<rect x="92.20" y="459.35" width="3.60" height="3.60" fill="#000"/>
<rect x="95.20" y="459.35" width="3.60" height="3.60" fill="#000"/>
<rect x="97.70" y="459.83" width="3.60" height="3.60" fill="#000"/>
<path d="M116.30,405.18 L120.50,405.18 L118.40,408.88 Z" fill="#000"/>
<path d="M116.30,443.39 L120.50,443.39 L118.40,447.09 Z" fill="#000"/>
<path d="M116.30,456.36 L120.50,456.36 L118.40,460.06 Z" fill="#000"/>
<path d="M110.30,460.03 L114.50,460.03 L112.40,463.73 Z" fill="#000"/>
<path d="M116.30,460.03 L120.50,460.03 L118.40,463.73 Z" fill="#000"/>
<path d="M122.30,460.03 L126.50,460.03 L124.40,463.73 Z" fill="#000"/>
<circle cx="144.60" cy="379.98" r="1.9" fill="#000"/>
<circle cx="144.60" cy="389.36" r="1.9" fill="#000"/>
<circle cx="144.60" cy="393.81" r="1.9" fill="#000"/>
<circle cx="144.60" cy="415.97" r="1.9" fill="#000"/>
<circle cx="142.30" cy="443.83" r="1.9" fill="#000"/>
<circle cx="146.90" cy="443.54" r="1.9" fill="#000"/>
<circle cx="144.60" cy="455.44" r="1.9" fill="#000"/>
<circle cx="137.80" cy="460.67" r="1.9" fill="#000"/>
<circle cx="141.70" cy="461.05" r="1.9" fill="#000"/>
<circle cx="144.60" cy="461.15" r="1.9" fill="#000"/>
<circle cx="148.40" cy="461.15" r="1.9" fill="#000"/>
<circle cx="151.30" cy="461.15" r="1.9" fill="#000"/>
<path d="M168.65,445.13 L172.85,445.13 L170.75,448.83 Z" fill="#000"/>
<path d="M162.65,459.26 L166.85,459.26 L164.75,462.96 Z" fill="#000"/>
<path d="M165.65,459.55 L169.85,459.55 L167.75,463.25 Z" fill="#000"/>
<path d="M168.65,458.87 L172.85,458.87 L170.75,462.57 Z" fill="#000"/>
<path d="M171.65,459.55 L175.85,459.55 L173.75,463.25 Z" fill="#000"/>
<path d="M174.65,459.55 L178.85,459.55 L176.75,463.25 Z" fill="#000"/>
<circle cx="197.00" cy="453.51" r="1.9" fill="#000"/>
<circle cx="201.20" cy="458.73" r="1.9" fill="#000"/>
<circle cx="190.00" cy="461.15" r="1.9" fill="#000"/>
<circle cx="193.00" cy="461.15" r="1.9" fill="#000"/>
<circle cx="196.00" cy="461.15" r="1.9" fill="#000"/>
<circle cx="199.00" cy="461.15" r="1.9" fill="#000"/>
<circle cx="203.00" cy="461.63" r="1.9" fill="#000"/>
<rect x="218.75" y="447.26" width="3.60" height="3.60" fill="#000"/>
<rect x="223.95" y="447.26" width="3.60" height="3.60" fill="#000"/>
<rect x="215.85" y="457.80" width="3.60" height="3.60" fill="#000"/>
<rect x="221.45" y="457.80" width="3.60" height="3.60" fill="#000"/>
<rect x="227.35" y="457.80" width="3.60" height="3.60" fill="#000"/>
<line x1="48.60" y1="365.85" x2="48.60" y2="463.30" stroke="#3c3c3c" stroke-width="1.35"/>
<line x1="45.20" y1="462.60" x2="240.75" y2="462.60" stroke="#3c3c3c" stroke-width="1.35"/>
<line x1="45.20" y1="462.60" x2="48.60" y2="462.60" stroke="#3c3c3c" stroke-width="1.215"/>
<text x="42.60" y="465.60" font-size="8.8" text-anchor="end" fill="#231f20" textLength="4.40" lengthAdjust="spacingAndGlyphs">0</text>
<line x1="45.20" y1="443.25" x2="48.60" y2="443.25" stroke="#3c3c3c" stroke-width="1.215"/>
<text x="42.60" y="446.25" font-size="8.8" text-anchor="end" fill="#231f20" textLength="8.40" lengthAdjust="spacingAndGlyphs">20</text>
<line x1="45.20" y1="423.90" x2="48.60" y2="423.90" stroke="#3c3c3c" stroke-width="1.215"/>
<text x="42.60" y="426.90" font-size="8.8" text-anchor="end" fill="#231f20" textLength="8.40" lengthAdjust="spacingAndGlyphs">40</text>
<line x1="45.20" y1="404.55" x2="48.60" y2="404.55" stroke="#3c3c3c" stroke-width="1.215"/>
<text x="42.60" y="407.55" font-size="8.8" text-anchor="end" fill="#231f20" textLength="8.40" lengthAdjust="spacingAndGlyphs">60</text>
<line x1="45.20" y1="385.20" x2="48.60" y2="385.20" stroke="#3c3c3c" stroke-width="1.215"/>
<text x="42.60" y="388.20" font-size="8.8" text-anchor="end" fill="#231f20" textLength="8.40" lengthAdjust="spacingAndGlyphs">80</text>
<line x1="45.20" y1="365.85" x2="48.60" y2="365.85" stroke="#3c3c3c" stroke-width="1.215"/>
<text x="42.60" y="368.85" font-size="8.8" text-anchor="end" fill="#231f20" textLength="12.20" lengthAdjust="spacingAndGlyphs">100</text>
<line x1="66.00" y1="462.60" x2="66.00" y2="465.60" stroke="#3c3c3c" stroke-width="0.9"/>
<line x1="92.00" y1="462.60" x2="92.00" y2="465.60" stroke="#3c3c3c" stroke-width="0.9"/>
<line x1="118.40" y1="462.60" x2="118.40" y2="465.60" stroke="#3c3c3c" stroke-width="0.9"/>
<line x1="144.60" y1="462.60" x2="144.60" y2="465.60" stroke="#3c3c3c" stroke-width="0.9"/>
<line x1="170.75" y1="462.60" x2="170.75" y2="465.60" stroke="#3c3c3c" stroke-width="0.9"/>
<line x1="197.00" y1="462.60" x2="197.00" y2="465.60" stroke="#3c3c3c" stroke-width="0.9"/>
<line x1="223.25" y1="462.60" x2="223.25" y2="465.60" stroke="#3c3c3c" stroke-width="0.9"/>
<line x1="144.50" y1="361.80" x2="172.50" y2="361.80" stroke="#3a3a3a" stroke-width="1.0"/>
<text x="144.80" y="362.20" font-size="8.6" fill="#1a1a1a" stroke="#1a1a1a" stroke-width="0.25" textLength="3.05" lengthAdjust="spacing">*</text>
<text x="66.00" y="474.70" font-size="8.0" text-anchor="middle" fill="#231f20" textLength="15.30" lengthAdjust="spacingAndGlyphs">2mo</text>
<text x="92.00" y="474.70" font-size="8.0" text-anchor="middle" fill="#231f20" textLength="8.00" lengthAdjust="spacingAndGlyphs">1y</text>
<text x="118.40" y="474.70" font-size="8.0" text-anchor="middle" fill="#231f20" textLength="8.40" lengthAdjust="spacingAndGlyphs">2y</text>
<text x="144.60" y="474.70" font-size="8.0" text-anchor="middle" fill="#231f20" textLength="15.30" lengthAdjust="spacingAndGlyphs">2mo</text>
<text x="170.75" y="474.70" font-size="8.0" text-anchor="middle" fill="#231f20" textLength="8.40" lengthAdjust="spacingAndGlyphs">2y</text>
<text x="197.00" y="474.70" font-size="8.0" text-anchor="middle" fill="#231f20" textLength="15.30" lengthAdjust="spacingAndGlyphs">2mo</text>
<text x="223.25" y="474.70" font-size="8.0" text-anchor="middle" fill="#231f20" textLength="8.00" lengthAdjust="spacingAndGlyphs">1y</text>
<line x1="56.90" y1="477.60" x2="125.00" y2="477.60" stroke="#333" stroke-width="0.9"/>
<text x="90.50" y="486.60" font-size="8.0" text-anchor="middle" fill="#231f20" textLength="28.00" lengthAdjust="spacingAndGlyphs">WT SPF</text>
<line x1="133.80" y1="477.60" x2="178.00" y2="477.60" stroke="#333" stroke-width="0.9"/>
<text x="155.00" y="486.60" font-size="8.0" text-anchor="middle" fill="#231f20" textLength="49.00" lengthAdjust="spacingAndGlyphs">IL-1R1KO SPF</text>
<line x1="185.40" y1="477.60" x2="230.00" y2="477.60" stroke="#333" stroke-width="0.9"/>
<text x="207.50" y="486.60" font-size="8.0" text-anchor="middle" fill="#231f20" textLength="24.50" lengthAdjust="spacingAndGlyphs">WT GF</text>
<text x="395.30" y="333.20" font-size="9.6" text-anchor="middle" fill="#231f20" textLength="40.50" lengthAdjust="spacingAndGlyphs">100 HSCs</text>
<text x="275.30" y="412.50" font-size="9.0" text-anchor="middle" fill="#231f20" textLength="115.00" lengthAdjust="spacingAndGlyphs" transform="rotate(-90 275.30 412.50)">Donor chimerism in CD45+ PB (%)</text>
<rect x="307.40" y="407.31" width="17.00" height="55.29" fill="#1b5a8f"/>
<rect x="334.00" y="443.30" width="17.00" height="19.30" fill="#5a2a74"/>
<rect x="360.25" y="441.65" width="17.00" height="20.95" fill="#c9183c"/>
<rect x="386.50" y="417.59" width="17.00" height="45.01" fill="#f8b91a"/>
<rect x="412.80" y="452.42" width="17.00" height="10.19" fill="#c47c2e"/>
<rect x="439.00" y="452.90" width="17.00" height="9.70" fill="#3db54a"/>
<rect x="465.80" y="452.90" width="17.00" height="9.70" fill="#126f50"/>
<line x1="381.25" y1="368.00" x2="381.25" y2="462.60" stroke="#4a4a4a" stroke-width="1.2" stroke-dasharray="1.4 2"/>
<line x1="434.80" y1="368.00" x2="434.80" y2="462.60" stroke="#4a4a4a" stroke-width="1.2" stroke-dasharray="1.4 2"/>
<line x1="315.90" y1="380.34" x2="315.90" y2="432.34" stroke="#231f20" stroke-width="0.9"/>
<line x1="311.90" y1="380.34" x2="319.90" y2="380.34" stroke="#231f20" stroke-width="0.9"/>
<line x1="311.90" y1="432.34" x2="319.90" y2="432.34" stroke="#231f20" stroke-width="0.9"/>
<line x1="342.50" y1="423.41" x2="342.50" y2="462.60" stroke="#231f20" stroke-width="0.9"/>
<line x1="338.50" y1="423.41" x2="346.50" y2="423.41" stroke="#231f20" stroke-width="0.9"/>
<line x1="368.75" y1="410.22" x2="368.75" y2="462.60" stroke="#231f20" stroke-width="0.9"/>
<line x1="364.75" y1="410.22" x2="372.75" y2="410.22" stroke="#231f20" stroke-width="0.9"/>
<line x1="395.00" y1="386.36" x2="395.00" y2="447.56" stroke="#231f20" stroke-width="0.9"/>
<line x1="391.00" y1="386.36" x2="399.00" y2="386.36" stroke="#231f20" stroke-width="0.9"/>
<line x1="391.00" y1="447.56" x2="399.00" y2="447.56" stroke="#231f20" stroke-width="0.9"/>
<line x1="421.30" y1="443.49" x2="421.30" y2="462.60" stroke="#231f20" stroke-width="0.9"/>
<line x1="417.30" y1="443.49" x2="425.30" y2="443.49" stroke="#231f20" stroke-width="0.9"/>
<line x1="447.50" y1="441.26" x2="447.50" y2="462.60" stroke="#231f20" stroke-width="0.9"/>
<line x1="443.50" y1="441.26" x2="451.50" y2="441.26" stroke="#231f20" stroke-width="0.9"/>
<line x1="474.30" y1="443.49" x2="474.30" y2="462.60" stroke="#231f20" stroke-width="0.9"/>
<line x1="470.30" y1="443.49" x2="478.30" y2="443.49" stroke="#231f20" stroke-width="0.9"/>
<circle cx="315.90" cy="375.69" r="1.9" fill="#000"/>
<circle cx="309.70" cy="385.00" r="1.9" fill="#000"/>
<circle cx="322.00" cy="383.84" r="1.9" fill="#000"/>
<circle cx="315.90" cy="383.06" r="1.9" fill="#000"/>
<circle cx="315.90" cy="386.94" r="1.9" fill="#000"/>
<circle cx="315.90" cy="391.40" r="1.9" fill="#000"/>
<circle cx="315.90" cy="395.67" r="1.9" fill="#000"/>
<circle cx="315.90" cy="401.98" r="1.9" fill="#000"/>
<circle cx="312.80" cy="409.25" r="1.9" fill="#000"/>
<circle cx="318.80" cy="407.70" r="1.9" fill="#000"/>
<circle cx="315.90" cy="413.42" r="1.9" fill="#000"/>
<circle cx="315.90" cy="423.41" r="1.9" fill="#000"/>
<circle cx="315.90" cy="435.54" r="1.9" fill="#000"/>
<circle cx="315.90" cy="452.32" r="1.9" fill="#000"/>
<circle cx="315.90" cy="457.17" r="1.9" fill="#000"/>
<rect x="340.70" y="388.44" width="3.60" height="3.60" fill="#000"/>
<rect x="340.70" y="404.06" width="3.60" height="3.60" fill="#000"/>
<rect x="340.70" y="424.52" width="3.60" height="3.60" fill="#000"/>
<rect x="338.10" y="431.22" width="3.60" height="3.60" fill="#000"/>
<rect x="342.40" y="434.90" width="3.60" height="3.60" fill="#000"/>
<rect x="333.90" y="444.02" width="3.60" height="3.60" fill="#000"/>
<rect x="337.80" y="444.50" width="3.60" height="3.60" fill="#000"/>
<rect x="342.60" y="446.44" width="3.60" height="3.60" fill="#000"/>
<rect x="346.90" y="444.50" width="3.60" height="3.60" fill="#000"/>
<rect x="335.40" y="450.71" width="3.60" height="3.60" fill="#000"/>
<rect x="344.10" y="449.16" width="3.60" height="3.60" fill="#000"/>
<rect x="335.40" y="453.62" width="3.60" height="3.60" fill="#000"/>
<rect x="343.60" y="456.05" width="3.60" height="3.60" fill="#000"/>
<rect x="337.80" y="457.89" width="3.60" height="3.60" fill="#000"/>
<rect x="340.70" y="457.89" width="3.60" height="3.60" fill="#000"/>
<rect x="345.50" y="458.38" width="3.60" height="3.60" fill="#000"/>
<rect x="340.70" y="460.02" width="3.60" height="3.60" fill="#000"/>
<rect x="334.70" y="459.83" width="3.60" height="3.60" fill="#000"/>
<rect x="346.70" y="459.83" width="3.60" height="3.60" fill="#000"/>
<path d="M366.65,381.46 L370.85,381.46 L368.75,385.16 Z" fill="#000"/>
<path d="M366.65,391.16 L370.85,391.16 L368.75,394.86 Z" fill="#000"/>
<path d="M366.65,415.41 L370.85,415.41 L368.75,419.11 Z" fill="#000"/>
<path d="M362.25,456.15 L366.45,456.15 L364.35,459.85 Z" fill="#000"/>
<path d="M365.75,454.70 L369.95,454.70 L367.85,458.39 Z" fill="#000"/>
<path d="M371.15,453.73 L375.35,453.73 L373.25,457.43 Z" fill="#000"/>
<path d="M360.65,458.58 L364.85,458.58 L362.75,462.27 Z" fill="#000"/>
<path d="M373.65,460.03 L377.85,460.03 L375.75,463.73 Z" fill="#000"/>
<path d="M368.65,459.55 L372.85,459.55 L370.75,463.25 Z" fill="#000"/>
<circle cx="392.10" cy="383.55" r="1.9" fill="#000"/>
<circle cx="397.70" cy="382.48" r="1.9" fill="#000"/>
<circle cx="391.80" cy="388.30" r="1.9" fill="#000"/>
<circle cx="398.00" cy="386.46" r="1.9" fill="#000"/>
<circle cx="389.00" cy="392.76" r="1.9" fill="#000"/>
<circle cx="400.90" cy="392.76" r="1.9" fill="#000"/>
<circle cx="395.00" cy="394.51" r="1.9" fill="#000"/>
<circle cx="395.00" cy="401.59" r="1.9" fill="#000"/>
<circle cx="389.20" cy="435.83" r="1.9" fill="#000"/>
<circle cx="395.00" cy="434.08" r="1.9" fill="#000"/>
<circle cx="400.90" cy="433.40" r="1.9" fill="#000"/>
<circle cx="392.30" cy="453.29" r="1.9" fill="#000"/>
<circle cx="397.70" cy="453.29" r="1.9" fill="#000"/>
<circle cx="395.00" cy="457.17" r="1.9" fill="#000"/>
<circle cx="395.00" cy="461.92" r="1.9" fill="#000"/>
<path d="M417.90,439.18 L422.10,439.18 L420.00,442.88 Z" fill="#000"/>
<path d="M421.00,437.91 L425.20,437.91 L423.10,441.61 Z" fill="#000"/>
<path d="M417.90,447.61 L422.10,447.61 L420.00,451.31 Z" fill="#000"/>
<path d="M421.00,451.49 L425.20,451.49 L423.10,455.19 Z" fill="#000"/>
<path d="M419.20,454.60 L423.40,454.60 L421.30,458.30 Z" fill="#000"/>
<path d="M417.20,458.38 L421.40,458.38 L419.30,462.08 Z" fill="#000"/>
<path d="M421.70,458.38 L425.90,458.38 L423.80,462.08 Z" fill="#000"/>
<circle cx="447.50" cy="422.64" r="1.9" fill="#000"/>
<circle cx="442.30" cy="444.95" r="1.9" fill="#000"/>
<circle cx="453.30" cy="446.21" r="1.9" fill="#000"/>
<circle cx="445.70" cy="447.66" r="1.9" fill="#000"/>
<circle cx="449.70" cy="448.24" r="1.9" fill="#000"/>
<circle cx="447.50" cy="453.00" r="1.9" fill="#000"/>
<circle cx="451.20" cy="453.39" r="1.9" fill="#000"/>
<circle cx="444.20" cy="455.42" r="1.9" fill="#000"/>
<circle cx="440.70" cy="461.15" r="1.9" fill="#000"/>
<circle cx="444.20" cy="461.44" r="1.9" fill="#000"/>
<circle cx="447.50" cy="461.63" r="1.9" fill="#000"/>
<circle cx="451.50" cy="461.82" r="1.9" fill="#000"/>
<circle cx="454.50" cy="461.82" r="1.9" fill="#000"/>
<rect x="472.50" y="434.71" width="3.60" height="3.60" fill="#000"/>
<rect x="472.50" y="441.30" width="3.60" height="3.60" fill="#000"/>
<rect x="469.50" y="453.14" width="3.60" height="3.60" fill="#000"/>
<rect x="475.50" y="453.14" width="3.60" height="3.60" fill="#000"/>
<rect x="466.50" y="457.70" width="3.60" height="3.60" fill="#000"/>
<rect x="472.50" y="457.70" width="3.60" height="3.60" fill="#000"/>
<rect x="478.20" y="457.70" width="3.60" height="3.60" fill="#000"/>
<line x1="298.50" y1="365.60" x2="298.50" y2="463.30" stroke="#3c3c3c" stroke-width="1.35"/>
<line x1="295.10" y1="462.60" x2="492.20" y2="462.60" stroke="#3c3c3c" stroke-width="1.35"/>
<line x1="295.10" y1="462.60" x2="298.50" y2="462.60" stroke="#3c3c3c" stroke-width="1.215"/>
<text x="292.50" y="465.60" font-size="8.8" text-anchor="end" fill="#231f20" textLength="4.40" lengthAdjust="spacingAndGlyphs">0</text>
<line x1="295.10" y1="443.20" x2="298.50" y2="443.20" stroke="#3c3c3c" stroke-width="1.215"/>
<text x="292.50" y="446.20" font-size="8.8" text-anchor="end" fill="#231f20" textLength="8.40" lengthAdjust="spacingAndGlyphs">20</text>
<line x1="295.10" y1="423.80" x2="298.50" y2="423.80" stroke="#3c3c3c" stroke-width="1.215"/>
<text x="292.50" y="426.80" font-size="8.8" text-anchor="end" fill="#231f20" textLength="8.40" lengthAdjust="spacingAndGlyphs">40</text>
<line x1="295.10" y1="404.40" x2="298.50" y2="404.40" stroke="#3c3c3c" stroke-width="1.215"/>
<text x="292.50" y="407.40" font-size="8.8" text-anchor="end" fill="#231f20" textLength="8.40" lengthAdjust="spacingAndGlyphs">60</text>
<line x1="295.10" y1="385.00" x2="298.50" y2="385.00" stroke="#3c3c3c" stroke-width="1.215"/>
<text x="292.50" y="388.00" font-size="8.8" text-anchor="end" fill="#231f20" textLength="8.40" lengthAdjust="spacingAndGlyphs">80</text>
<line x1="295.10" y1="365.60" x2="298.50" y2="365.60" stroke="#3c3c3c" stroke-width="1.215"/>
<text x="292.50" y="368.60" font-size="8.8" text-anchor="end" fill="#231f20" textLength="12.20" lengthAdjust="spacingAndGlyphs">100</text>
<line x1="315.90" y1="462.60" x2="315.90" y2="465.60" stroke="#3c3c3c" stroke-width="0.9"/>
<line x1="342.50" y1="462.60" x2="342.50" y2="465.60" stroke="#3c3c3c" stroke-width="0.9"/>
<line x1="368.75" y1="462.60" x2="368.75" y2="465.60" stroke="#3c3c3c" stroke-width="0.9"/>
<line x1="395.00" y1="462.60" x2="395.00" y2="465.60" stroke="#3c3c3c" stroke-width="0.9"/>
<line x1="421.30" y1="462.60" x2="421.30" y2="465.60" stroke="#3c3c3c" stroke-width="0.9"/>
<line x1="447.50" y1="462.60" x2="447.50" y2="465.60" stroke="#3c3c3c" stroke-width="0.9"/>
<line x1="474.30" y1="462.60" x2="474.30" y2="465.60" stroke="#3c3c3c" stroke-width="0.9"/>
<line x1="313.25" y1="351.80" x2="445.80" y2="351.80" stroke="#3a3a3a" stroke-width="1.0"/>
<text x="313.55" y="352.20" font-size="8.6" fill="#1a1a1a" stroke="#1a1a1a" stroke-width="0.25" textLength="9.75" lengthAdjust="spacing">***</text>
<line x1="313.25" y1="360.50" x2="368.75" y2="360.50" stroke="#3a3a3a" stroke-width="1.0"/>
<text x="313.55" y="360.90" font-size="8.6" fill="#1a1a1a" stroke="#1a1a1a" stroke-width="0.25" textLength="6.40" lengthAdjust="spacing">**</text>
<line x1="313.25" y1="369.50" x2="341.25" y2="369.50" stroke="#3a3a3a" stroke-width="1.0"/>
<text x="313.55" y="369.90" font-size="8.6" fill="#1a1a1a" stroke="#1a1a1a" stroke-width="0.25" textLength="13.10" lengthAdjust="spacing">****</text>
<line x1="393.00" y1="343.00" x2="445.80" y2="343.00" stroke="#3a3a3a" stroke-width="1.0"/>
<text x="393.30" y="343.40" font-size="8.6" fill="#1a1a1a" stroke="#1a1a1a" stroke-width="0.25" textLength="9.75" lengthAdjust="spacing">***</text>
<line x1="393.00" y1="360.60" x2="420.80" y2="360.60" stroke="#3a3a3a" stroke-width="1.0"/>
<text x="393.30" y="361.00" font-size="8.6" fill="#1a1a1a" stroke="#1a1a1a" stroke-width="0.25" textLength="6.40" lengthAdjust="spacing">**</text>
<text x="315.90" y="474.70" font-size="8.0" text-anchor="middle" fill="#231f20" textLength="15.30" lengthAdjust="spacingAndGlyphs">2mo</text>
<text x="342.50" y="474.70" font-size="8.0" text-anchor="middle" fill="#231f20" textLength="8.00" lengthAdjust="spacingAndGlyphs">1y</text>
<text x="368.75" y="474.70" font-size="8.0" text-anchor="middle" fill="#231f20" textLength="8.40" lengthAdjust="spacingAndGlyphs">2y</text>
<text x="395.00" y="474.70" font-size="8.0" text-anchor="middle" fill="#231f20" textLength="15.30" lengthAdjust="spacingAndGlyphs">2mo</text>
<text x="421.30" y="474.70" font-size="8.0" text-anchor="middle" fill="#231f20" textLength="8.40" lengthAdjust="spacingAndGlyphs">2y</text>
<text x="447.50" y="474.70" font-size="8.0" text-anchor="middle" fill="#231f20" textLength="15.30" lengthAdjust="spacingAndGlyphs">2mo</text>
<text x="474.30" y="474.70" font-size="8.0" text-anchor="middle" fill="#231f20" textLength="8.00" lengthAdjust="spacingAndGlyphs">1y</text>
<line x1="306.70" y1="477.60" x2="374.00" y2="477.60" stroke="#333" stroke-width="0.9"/>
<text x="340.40" y="486.60" font-size="8.0" text-anchor="middle" fill="#231f20" textLength="28.00" lengthAdjust="spacingAndGlyphs">WT SPF</text>
<line x1="383.10" y1="477.60" x2="426.90" y2="477.60" stroke="#333" stroke-width="0.9"/>
<text x="405.40" y="486.60" font-size="8.0" text-anchor="middle" fill="#231f20" textLength="49.00" lengthAdjust="spacingAndGlyphs">IL-1R1KO SPF</text>
<line x1="437.50" y1="477.60" x2="481.70" y2="477.60" stroke="#333" stroke-width="0.9"/>
<text x="459.60" y="486.60" font-size="8.0" text-anchor="middle" fill="#231f20" textLength="24.50" lengthAdjust="spacingAndGlyphs">WT GF</text>
<text x="7.50" y="509.10" font-size="10.5" text-anchor="start" fill="#231f20" font-weight="bold" textLength="8.10" lengthAdjust="spacingAndGlyphs" style="stroke-width:0.25px;fill:#111;stroke:#111">D</text>
<text x="145.50" y="515.75" font-size="9.6" text-anchor="middle" fill="#231f20" textLength="35.00" lengthAdjust="spacingAndGlyphs">10 HSCs</text>
<text x="21.80" y="584.50" font-size="9.0" text-anchor="middle" fill="#231f20" textLength="80.00" lengthAdjust="spacingAndGlyphs" transform="rotate(-90 21.80 584.50)">Lineage distribution (%)</text>
<rect x="50.50" y="540.45" width="17.00" height="40.75" fill="#e08296"/>
<rect x="50.50" y="581.20" width="17.00" height="8.30" fill="#f8b91a"/>
<rect x="50.50" y="589.50" width="17.00" height="44.20" fill="#3cb24c"/>
<rect x="77.00" y="540.45" width="17.00" height="64.06" fill="#e08296"/>
<rect x="77.00" y="604.51" width="17.00" height="5.41" fill="#f8b91a"/>
<rect x="77.00" y="609.92" width="17.00" height="23.78" fill="#3cb24c"/>
<rect x="103.40" y="540.45" width="17.00" height="62.76" fill="#e08296"/>
<rect x="103.40" y="603.21" width="17.00" height="12.96" fill="#f8b91a"/>
<rect x="103.40" y="616.17" width="17.00" height="17.53" fill="#3cb24c"/>
<rect x="129.75" y="540.45" width="17.00" height="32.73" fill="#e08296"/>
<rect x="129.75" y="573.18" width="17.00" height="17.62" fill="#f8b91a"/>
<rect x="129.75" y="590.81" width="17.00" height="42.90" fill="#3cb24c"/>
<rect x="156.25" y="540.45" width="17.00" height="38.23" fill="#e08296"/>
<rect x="156.25" y="578.68" width="17.00" height="7.46" fill="#f8b91a"/>
<rect x="156.25" y="586.14" width="17.00" height="47.56" fill="#3cb24c"/>
<rect x="182.60" y="540.45" width="17.00" height="12.50" fill="#e08296"/>
<rect x="182.60" y="552.95" width="17.00" height="36.55" fill="#f8b91a"/>
<rect x="182.60" y="589.50" width="17.00" height="44.20" fill="#3cb24c"/>
<rect x="209.25" y="540.45" width="17.00" height="32.64" fill="#e08296"/>
<rect x="209.25" y="573.09" width="17.00" height="17.72" fill="#f8b91a"/>
<rect x="209.25" y="590.81" width="17.00" height="42.90" fill="#3cb24c"/>
<line x1="46.00" y1="587.08" x2="233.00" y2="587.08" stroke="#444" stroke-width="1.2" stroke-dasharray="1.2 0.8"/>
<line x1="59.00" y1="551.17" x2="59.00" y2="540.45" stroke="#231f20" stroke-width="0.9"/>
<line x1="55.00" y1="551.17" x2="63.00" y2="551.17" stroke="#231f20" stroke-width="0.9"/>
<line x1="59.00" y1="582.69" x2="59.00" y2="581.20" stroke="#231f20" stroke-width="0.9"/>
<line x1="55.00" y1="582.69" x2="63.00" y2="582.69" stroke="#231f20" stroke-width="0.9"/>
<line x1="59.00" y1="599.48" x2="59.00" y2="589.50" stroke="#231f20" stroke-width="0.9"/>
<line x1="55.00" y1="599.48" x2="63.00" y2="599.48" stroke="#231f20" stroke-width="0.9"/>
<line x1="85.50" y1="545.58" x2="85.50" y2="540.45" stroke="#231f20" stroke-width="0.9"/>
<line x1="81.50" y1="545.58" x2="89.50" y2="545.58" stroke="#231f20" stroke-width="0.9"/>
<line x1="85.50" y1="606.19" x2="85.50" y2="604.51" stroke="#231f20" stroke-width="0.9"/>
<line x1="81.50" y1="606.19" x2="89.50" y2="606.19" stroke="#231f20" stroke-width="0.9"/>
<line x1="85.50" y1="614.12" x2="85.50" y2="609.92" stroke="#231f20" stroke-width="0.9"/>
<line x1="81.50" y1="614.12" x2="89.50" y2="614.12" stroke="#231f20" stroke-width="0.9"/>
<line x1="111.90" y1="547.91" x2="111.90" y2="540.45" stroke="#231f20" stroke-width="0.9"/>
<line x1="107.90" y1="547.91" x2="115.90" y2="547.91" stroke="#231f20" stroke-width="0.9"/>
<line x1="111.90" y1="608.71" x2="111.90" y2="603.21" stroke="#231f20" stroke-width="0.9"/>
<line x1="107.90" y1="608.71" x2="115.90" y2="608.71" stroke="#231f20" stroke-width="0.9"/>
<line x1="111.90" y1="620.65" x2="111.90" y2="616.17" stroke="#231f20" stroke-width="0.9"/>
<line x1="107.90" y1="620.65" x2="115.90" y2="620.65" stroke="#231f20" stroke-width="0.9"/>
<line x1="138.25" y1="551.92" x2="138.25" y2="540.45" stroke="#231f20" stroke-width="0.9"/>
<line x1="134.25" y1="551.92" x2="142.25" y2="551.92" stroke="#231f20" stroke-width="0.9"/>
<line x1="138.25" y1="579.62" x2="138.25" y2="573.18" stroke="#231f20" stroke-width="0.9"/>
<line x1="134.25" y1="579.62" x2="142.25" y2="579.62" stroke="#231f20" stroke-width="0.9"/>
<line x1="138.25" y1="600.50" x2="138.25" y2="590.81" stroke="#231f20" stroke-width="0.9"/>
<line x1="134.25" y1="600.50" x2="142.25" y2="600.50" stroke="#231f20" stroke-width="0.9"/>
<line x1="164.75" y1="553.78" x2="164.75" y2="540.45" stroke="#231f20" stroke-width="0.9"/>
<line x1="160.75" y1="553.78" x2="168.75" y2="553.78" stroke="#231f20" stroke-width="0.9"/>
<line x1="164.75" y1="581.20" x2="164.75" y2="578.68" stroke="#231f20" stroke-width="0.9"/>
<line x1="160.75" y1="581.20" x2="168.75" y2="581.20" stroke="#231f20" stroke-width="0.9"/>
<line x1="164.75" y1="598.27" x2="164.75" y2="586.14" stroke="#231f20" stroke-width="0.9"/>
<line x1="160.75" y1="598.27" x2="168.75" y2="598.27" stroke="#231f20" stroke-width="0.9"/>
<line x1="191.10" y1="545.11" x2="191.10" y2="540.45" stroke="#231f20" stroke-width="0.9"/>
<line x1="187.10" y1="545.11" x2="195.10" y2="545.11" stroke="#231f20" stroke-width="0.9"/>
<line x1="191.10" y1="563.76" x2="191.10" y2="552.95" stroke="#231f20" stroke-width="0.9"/>
<line x1="187.10" y1="563.76" x2="195.10" y2="563.76" stroke="#231f20" stroke-width="0.9"/>
<line x1="191.10" y1="596.96" x2="191.10" y2="589.50" stroke="#231f20" stroke-width="0.9"/>
<line x1="187.10" y1="596.96" x2="195.10" y2="596.96" stroke="#231f20" stroke-width="0.9"/>
<line x1="217.75" y1="546.98" x2="217.75" y2="540.45" stroke="#231f20" stroke-width="0.9"/>
<line x1="213.75" y1="546.98" x2="221.75" y2="546.98" stroke="#231f20" stroke-width="0.9"/>
<line x1="217.75" y1="575.88" x2="217.75" y2="573.09" stroke="#231f20" stroke-width="0.9"/>
<line x1="213.75" y1="575.88" x2="221.75" y2="575.88" stroke="#231f20" stroke-width="0.9"/>
<line x1="217.75" y1="595.00" x2="217.75" y2="590.81" stroke="#231f20" stroke-width="0.9"/>
<line x1="213.75" y1="595.00" x2="221.75" y2="595.00" stroke="#231f20" stroke-width="0.9"/>
<line x1="46.00" y1="540.45" x2="46.00" y2="634.40" stroke="#3c3c3c" stroke-width="1.35"/>
<line x1="42.60" y1="633.70" x2="230.50" y2="633.70" stroke="#3c3c3c" stroke-width="1.35"/>
<line x1="42.60" y1="633.70" x2="46.00" y2="633.70" stroke="#3c3c3c" stroke-width="1.215"/>
<text x="40.00" y="636.70" font-size="8.8" text-anchor="end" fill="#231f20" textLength="4.40" lengthAdjust="spacingAndGlyphs">0</text>
<line x1="42.60" y1="615.05" x2="46.00" y2="615.05" stroke="#3c3c3c" stroke-width="1.215"/>
<text x="40.00" y="618.05" font-size="8.8" text-anchor="end" fill="#231f20" textLength="8.40" lengthAdjust="spacingAndGlyphs">20</text>
<line x1="42.60" y1="596.40" x2="46.00" y2="596.40" stroke="#3c3c3c" stroke-width="1.215"/>
<text x="40.00" y="599.40" font-size="8.8" text-anchor="end" fill="#231f20" textLength="8.40" lengthAdjust="spacingAndGlyphs">40</text>
<line x1="42.60" y1="577.75" x2="46.00" y2="577.75" stroke="#3c3c3c" stroke-width="1.215"/>
<text x="40.00" y="580.75" font-size="8.8" text-anchor="end" fill="#231f20" textLength="8.40" lengthAdjust="spacingAndGlyphs">60</text>
<line x1="42.60" y1="559.10" x2="46.00" y2="559.10" stroke="#3c3c3c" stroke-width="1.215"/>
<text x="40.00" y="562.10" font-size="8.8" text-anchor="end" fill="#231f20" textLength="8.40" lengthAdjust="spacingAndGlyphs">80</text>
<line x1="42.60" y1="540.45" x2="46.00" y2="540.45" stroke="#3c3c3c" stroke-width="1.215"/>
<text x="40.00" y="543.45" font-size="8.8" text-anchor="end" fill="#231f20" textLength="12.20" lengthAdjust="spacingAndGlyphs">100</text>
<line x1="59.00" y1="633.70" x2="59.00" y2="636.70" stroke="#3c3c3c" stroke-width="0.9"/>
<line x1="85.50" y1="633.70" x2="85.50" y2="636.70" stroke="#3c3c3c" stroke-width="0.9"/>
<line x1="111.90" y1="633.70" x2="111.90" y2="636.70" stroke="#3c3c3c" stroke-width="0.9"/>
<line x1="138.25" y1="633.70" x2="138.25" y2="636.70" stroke="#3c3c3c" stroke-width="0.9"/>
<line x1="164.75" y1="633.70" x2="164.75" y2="636.70" stroke="#3c3c3c" stroke-width="0.9"/>
<line x1="191.10" y1="633.70" x2="191.10" y2="636.70" stroke="#3c3c3c" stroke-width="0.9"/>
<line x1="217.75" y1="633.70" x2="217.75" y2="636.70" stroke="#3c3c3c" stroke-width="0.9"/>
<line x1="56.25" y1="531.30" x2="111.25" y2="531.30" stroke="#3a3a3a" stroke-width="1.0"/>
<text x="56.55" y="531.70" font-size="8.6" fill="#1a1a1a" stroke="#1a1a1a" stroke-width="0.25" textLength="3.05" lengthAdjust="spacing">*</text>
<text x="59.00" y="646.10" font-size="8.0" text-anchor="middle" fill="#231f20" textLength="15.30" lengthAdjust="spacingAndGlyphs">2mo</text>
<text x="85.50" y="646.10" font-size="8.0" text-anchor="middle" fill="#231f20" textLength="8.00" lengthAdjust="spacingAndGlyphs">1y</text>
<text x="111.90" y="646.10" font-size="8.0" text-anchor="middle" fill="#231f20" textLength="8.40" lengthAdjust="spacingAndGlyphs">2y</text>
<text x="138.25" y="646.10" font-size="8.0" text-anchor="middle" fill="#231f20" textLength="15.30" lengthAdjust="spacingAndGlyphs">2mo</text>
<text x="164.75" y="646.10" font-size="8.0" text-anchor="middle" fill="#231f20" textLength="8.40" lengthAdjust="spacingAndGlyphs">2y</text>
<text x="191.10" y="646.10" font-size="8.0" text-anchor="middle" fill="#231f20" textLength="15.30" lengthAdjust="spacingAndGlyphs">2mo</text>
<text x="217.75" y="646.10" font-size="8.0" text-anchor="middle" fill="#231f20" textLength="8.00" lengthAdjust="spacingAndGlyphs">1y</text>
<line x1="50.50" y1="649.20" x2="120.50" y2="649.20" stroke="#333" stroke-width="0.9"/>
<text x="83.30" y="657.60" font-size="8.0" text-anchor="middle" fill="#231f20" textLength="28.00" lengthAdjust="spacingAndGlyphs">WT SPF</text>
<line x1="129.30" y1="649.20" x2="173.30" y2="649.20" stroke="#333" stroke-width="0.9"/>
<text x="151.80" y="657.60" font-size="8.0" text-anchor="middle" fill="#231f20" textLength="49.00" lengthAdjust="spacingAndGlyphs">IL-1R1KO SPF</text>
<line x1="183.80" y1="649.20" x2="227.10" y2="649.20" stroke="#333" stroke-width="0.9"/>
<text x="205.80" y="657.60" font-size="8.0" text-anchor="middle" fill="#231f20" textLength="24.50" lengthAdjust="spacingAndGlyphs">WT GF</text>
<text x="372.50" y="515.75" font-size="9.6" text-anchor="middle" fill="#231f20" textLength="40.50" lengthAdjust="spacingAndGlyphs">100 HSCs</text>
<text x="248.50" y="584.50" font-size="9.0" text-anchor="middle" fill="#231f20" textLength="80.00" lengthAdjust="spacingAndGlyphs" transform="rotate(-90 248.50 584.50)">Lineage distribution (%)</text>
<rect x="277.50" y="540.45" width="17.00" height="23.31" fill="#e08296"/>
<rect x="277.50" y="563.76" width="17.00" height="24.90" fill="#f8b91a"/>
<rect x="277.50" y="588.66" width="17.00" height="45.04" fill="#3cb24c"/>
<rect x="304.25" y="540.45" width="17.00" height="52.78" fill="#e08296"/>
<rect x="304.25" y="593.23" width="17.00" height="18.74" fill="#f8b91a"/>
<rect x="304.25" y="611.97" width="17.00" height="21.73" fill="#3cb24c"/>
<rect x="330.50" y="540.45" width="17.00" height="55.20" fill="#e08296"/>
<rect x="330.50" y="595.65" width="17.00" height="11.28" fill="#f8b91a"/>
<rect x="330.50" y="606.94" width="17.00" height="26.76" fill="#3cb24c"/>
<rect x="356.90" y="540.45" width="17.00" height="31.52" fill="#e08296"/>
<rect x="356.90" y="571.97" width="17.00" height="17.53" fill="#f8b91a"/>
<rect x="356.90" y="589.50" width="17.00" height="44.20" fill="#3cb24c"/>
<rect x="383.00" y="540.45" width="17.00" height="41.59" fill="#e08296"/>
<rect x="383.00" y="582.04" width="17.00" height="11.19" fill="#f8b91a"/>
<rect x="383.00" y="593.23" width="17.00" height="40.47" fill="#3cb24c"/>
<rect x="409.40" y="540.45" width="17.00" height="25.74" fill="#e08296"/>
<rect x="409.40" y="566.19" width="17.00" height="19.30" fill="#f8b91a"/>
<rect x="409.40" y="585.49" width="17.00" height="48.21" fill="#3cb24c"/>
<rect x="435.90" y="540.45" width="17.00" height="31.24" fill="#e08296"/>
<rect x="435.90" y="571.69" width="17.00" height="15.76" fill="#f8b91a"/>
<rect x="435.90" y="587.45" width="17.00" height="46.25" fill="#3cb24c"/>
<line x1="272.80" y1="587.08" x2="462.50" y2="587.08" stroke="#444" stroke-width="1.2" stroke-dasharray="1.2 0.8"/>
<line x1="286.00" y1="546.23" x2="286.00" y2="540.45" stroke="#231f20" stroke-width="0.9"/>
<line x1="282.00" y1="546.23" x2="290.00" y2="546.23" stroke="#231f20" stroke-width="0.9"/>
<line x1="286.00" y1="569.17" x2="286.00" y2="563.76" stroke="#231f20" stroke-width="0.9"/>
<line x1="282.00" y1="569.17" x2="290.00" y2="569.17" stroke="#231f20" stroke-width="0.9"/>
<line x1="286.00" y1="594.44" x2="286.00" y2="588.66" stroke="#231f20" stroke-width="0.9"/>
<line x1="282.00" y1="594.44" x2="290.00" y2="594.44" stroke="#231f20" stroke-width="0.9"/>
<line x1="312.75" y1="547.44" x2="312.75" y2="540.45" stroke="#231f20" stroke-width="0.9"/>
<line x1="308.75" y1="547.44" x2="316.75" y2="547.44" stroke="#231f20" stroke-width="0.9"/>
<line x1="312.75" y1="599.48" x2="312.75" y2="593.23" stroke="#231f20" stroke-width="0.9"/>
<line x1="308.75" y1="599.48" x2="316.75" y2="599.48" stroke="#231f20" stroke-width="0.9"/>
<line x1="312.75" y1="616.92" x2="312.75" y2="611.97" stroke="#231f20" stroke-width="0.9"/>
<line x1="308.75" y1="616.92" x2="316.75" y2="616.92" stroke="#231f20" stroke-width="0.9"/>
<line x1="339.00" y1="551.17" x2="339.00" y2="540.45" stroke="#231f20" stroke-width="0.9"/>
<line x1="335.00" y1="551.17" x2="343.00" y2="551.17" stroke="#231f20" stroke-width="0.9"/>
<line x1="339.00" y1="599.94" x2="339.00" y2="595.65" stroke="#231f20" stroke-width="0.9"/>
<line x1="335.00" y1="599.94" x2="343.00" y2="599.94" stroke="#231f20" stroke-width="0.9"/>
<line x1="339.00" y1="613.74" x2="339.00" y2="606.94" stroke="#231f20" stroke-width="0.9"/>
<line x1="335.00" y1="613.74" x2="343.00" y2="613.74" stroke="#231f20" stroke-width="0.9"/>
<line x1="365.40" y1="547.91" x2="365.40" y2="540.45" stroke="#231f20" stroke-width="0.9"/>
<line x1="361.40" y1="547.91" x2="369.40" y2="547.91" stroke="#231f20" stroke-width="0.9"/>
<line x1="365.40" y1="575.42" x2="365.40" y2="571.97" stroke="#231f20" stroke-width="0.9"/>
<line x1="361.40" y1="575.42" x2="369.40" y2="575.42" stroke="#231f20" stroke-width="0.9"/>
<line x1="365.40" y1="595.00" x2="365.40" y2="589.50" stroke="#231f20" stroke-width="0.9"/>
<line x1="361.40" y1="595.00" x2="369.40" y2="595.00" stroke="#231f20" stroke-width="0.9"/>
<line x1="391.50" y1="555.00" x2="391.50" y2="540.45" stroke="#231f20" stroke-width="0.9"/>
<line x1="387.50" y1="555.00" x2="395.50" y2="555.00" stroke="#231f20" stroke-width="0.9"/>
<line x1="391.50" y1="586.14" x2="391.50" y2="582.04" stroke="#231f20" stroke-width="0.9"/>
<line x1="387.50" y1="586.14" x2="395.50" y2="586.14" stroke="#231f20" stroke-width="0.9"/>
<line x1="391.50" y1="605.45" x2="391.50" y2="593.23" stroke="#231f20" stroke-width="0.9"/>
<line x1="387.50" y1="605.45" x2="395.50" y2="605.45" stroke="#231f20" stroke-width="0.9"/>
<line x1="417.90" y1="545.77" x2="417.90" y2="540.45" stroke="#231f20" stroke-width="0.9"/>
<line x1="413.90" y1="545.77" x2="421.90" y2="545.77" stroke="#231f20" stroke-width="0.9"/>
<line x1="417.90" y1="570.66" x2="417.90" y2="566.19" stroke="#231f20" stroke-width="0.9"/>
<line x1="413.90" y1="570.66" x2="421.90" y2="570.66" stroke="#231f20" stroke-width="0.9"/>
<line x1="417.90" y1="590.43" x2="417.90" y2="585.49" stroke="#231f20" stroke-width="0.9"/>
<line x1="413.90" y1="590.43" x2="421.90" y2="590.43" stroke="#231f20" stroke-width="0.9"/>
<line x1="444.40" y1="547.91" x2="444.40" y2="540.45" stroke="#231f20" stroke-width="0.9"/>
<line x1="440.40" y1="547.91" x2="448.40" y2="547.91" stroke="#231f20" stroke-width="0.9"/>
<line x1="444.40" y1="575.88" x2="444.40" y2="571.69" stroke="#231f20" stroke-width="0.9"/>
<line x1="440.40" y1="575.88" x2="448.40" y2="575.88" stroke="#231f20" stroke-width="0.9"/>
<line x1="444.40" y1="591.92" x2="444.40" y2="587.45" stroke="#231f20" stroke-width="0.9"/>
<line x1="440.40" y1="591.92" x2="448.40" y2="591.92" stroke="#231f20" stroke-width="0.9"/>
<line x1="272.80" y1="540.45" x2="272.80" y2="634.40" stroke="#3c3c3c" stroke-width="1.35"/>
<line x1="269.40" y1="633.70" x2="457.50" y2="633.70" stroke="#3c3c3c" stroke-width="1.35"/>
<line x1="269.40" y1="633.70" x2="272.80" y2="633.70" stroke="#3c3c3c" stroke-width="1.215"/>
<text x="266.80" y="636.70" font-size="8.8" text-anchor="end" fill="#231f20" textLength="4.40" lengthAdjust="spacingAndGlyphs">0</text>
<line x1="269.40" y1="615.05" x2="272.80" y2="615.05" stroke="#3c3c3c" stroke-width="1.215"/>
<text x="266.80" y="618.05" font-size="8.8" text-anchor="end" fill="#231f20" textLength="8.40" lengthAdjust="spacingAndGlyphs">20</text>
<line x1="269.40" y1="596.40" x2="272.80" y2="596.40" stroke="#3c3c3c" stroke-width="1.215"/>
<text x="266.80" y="599.40" font-size="8.8" text-anchor="end" fill="#231f20" textLength="8.40" lengthAdjust="spacingAndGlyphs">40</text>
<line x1="269.40" y1="577.75" x2="272.80" y2="577.75" stroke="#3c3c3c" stroke-width="1.215"/>
<text x="266.80" y="580.75" font-size="8.8" text-anchor="end" fill="#231f20" textLength="8.40" lengthAdjust="spacingAndGlyphs">60</text>
<line x1="269.40" y1="559.10" x2="272.80" y2="559.10" stroke="#3c3c3c" stroke-width="1.215"/>
<text x="266.80" y="562.10" font-size="8.8" text-anchor="end" fill="#231f20" textLength="8.40" lengthAdjust="spacingAndGlyphs">80</text>
<line x1="269.40" y1="540.45" x2="272.80" y2="540.45" stroke="#3c3c3c" stroke-width="1.215"/>
<text x="266.80" y="543.45" font-size="8.8" text-anchor="end" fill="#231f20" textLength="12.20" lengthAdjust="spacingAndGlyphs">100</text>
<line x1="286.00" y1="633.70" x2="286.00" y2="636.70" stroke="#3c3c3c" stroke-width="0.9"/>
<line x1="312.75" y1="633.70" x2="312.75" y2="636.70" stroke="#3c3c3c" stroke-width="0.9"/>
<line x1="339.00" y1="633.70" x2="339.00" y2="636.70" stroke="#3c3c3c" stroke-width="0.9"/>
<line x1="365.40" y1="633.70" x2="365.40" y2="636.70" stroke="#3c3c3c" stroke-width="0.9"/>
<line x1="391.50" y1="633.70" x2="391.50" y2="636.70" stroke="#3c3c3c" stroke-width="0.9"/>
<line x1="417.90" y1="633.70" x2="417.90" y2="636.70" stroke="#3c3c3c" stroke-width="0.9"/>
<line x1="444.40" y1="633.70" x2="444.40" y2="636.70" stroke="#3c3c3c" stroke-width="0.9"/>
<line x1="284.25" y1="530.00" x2="340.00" y2="530.00" stroke="#3a3a3a" stroke-width="1.0"/>
<text x="284.55" y="530.40" font-size="8.6" fill="#1a1a1a" stroke="#1a1a1a" stroke-width="0.25" textLength="6.40" lengthAdjust="spacing">**</text>
<line x1="284.25" y1="537.50" x2="312.50" y2="537.50" stroke="#3a3a3a" stroke-width="1.0"/>
<text x="284.55" y="537.90" font-size="8.6" fill="#1a1a1a" stroke="#1a1a1a" stroke-width="0.25" textLength="3.05" lengthAdjust="spacing">*</text>
<text x="286.00" y="646.10" font-size="8.0" text-anchor="middle" fill="#231f20" textLength="15.30" lengthAdjust="spacingAndGlyphs">2mo</text>
<text x="312.75" y="646.10" font-size="8.0" text-anchor="middle" fill="#231f20" textLength="8.00" lengthAdjust="spacingAndGlyphs">1y</text>
<text x="339.00" y="646.10" font-size="8.0" text-anchor="middle" fill="#231f20" textLength="8.40" lengthAdjust="spacingAndGlyphs">2y</text>
<text x="365.40" y="646.10" font-size="8.0" text-anchor="middle" fill="#231f20" textLength="15.30" lengthAdjust="spacingAndGlyphs">2mo</text>
<text x="391.50" y="646.10" font-size="8.0" text-anchor="middle" fill="#231f20" textLength="8.40" lengthAdjust="spacingAndGlyphs">2y</text>
<text x="417.90" y="646.10" font-size="8.0" text-anchor="middle" fill="#231f20" textLength="15.30" lengthAdjust="spacingAndGlyphs">2mo</text>
<text x="444.40" y="646.10" font-size="8.0" text-anchor="middle" fill="#231f20" textLength="8.00" lengthAdjust="spacingAndGlyphs">1y</text>
<line x1="276.70" y1="649.20" x2="347.30" y2="649.20" stroke="#333" stroke-width="0.9"/>
<text x="310.40" y="657.60" font-size="8.0" text-anchor="middle" fill="#231f20" textLength="28.00" lengthAdjust="spacingAndGlyphs">WT SPF</text>
<line x1="356.20" y1="649.20" x2="400.40" y2="649.20" stroke="#333" stroke-width="0.9"/>
<text x="378.80" y="657.60" font-size="8.0" text-anchor="middle" fill="#231f20" textLength="49.00" lengthAdjust="spacingAndGlyphs">IL-1R1KO SPF</text>
<line x1="409.00" y1="649.20" x2="453.30" y2="649.20" stroke="#333" stroke-width="0.9"/>
<text x="433.10" y="657.60" font-size="8.0" text-anchor="middle" fill="#231f20" textLength="24.50" lengthAdjust="spacingAndGlyphs">WT GF</text>
<rect x="468.00" y="540.80" width="10.20" height="6.00" fill="#e08296"/>
<text x="481.30" y="546.80" font-size="8.4" text-anchor="start" fill="#231f20" textLength="27.50" lengthAdjust="spacingAndGlyphs">Myeloid</text>
<rect x="468.00" y="551.30" width="10.20" height="6.00" fill="#f8b91a"/>
<text x="481.30" y="557.30" font-size="8.4" text-anchor="start" fill="#231f20" textLength="20.50" lengthAdjust="spacingAndGlyphs">T cell</text>
<rect x="468.00" y="562.00" width="10.20" height="6.00" fill="#3cb24c"/>
<text x="481.30" y="568.00" font-size="8.4" text-anchor="start" fill="#231f20" textLength="20.50" lengthAdjust="spacingAndGlyphs">B cell</text>
</svg>
</body></html>
